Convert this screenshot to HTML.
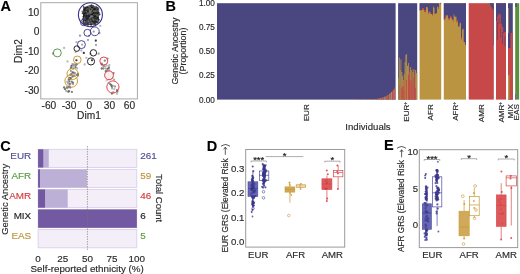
<!DOCTYPE html>
<html><head><meta charset="utf-8"><style>
html,body{margin:0;padding:0;background:#fff;width:520px;height:274px;overflow:hidden}
svg{display:block;filter:blur(0.25px)}
text{font-family:"Liberation Sans",sans-serif}
</style></head><body>
<svg width="520" height="274" viewBox="0 0 520 274">
<rect width="520" height="274" fill="#fff"/>
<text x="0.5" y="11" font-size="14.5" fill="#000" stroke="#000" stroke-width="0.1" text-anchor="start" font-weight="bold" >A</text>
<rect x="40.8" y="2.7" width="96.6" height="96.2" fill="#fff" stroke="#a8a8a8" stroke-width="1"/>
<text x="39.3" y="16.0" font-size="10.2" fill="#2a2a2a" stroke="#2a2a2a" stroke-width="0.15" text-anchor="end" font-weight="normal" >10</text>
<text x="39.3" y="35.4" font-size="10.2" fill="#2a2a2a" stroke="#2a2a2a" stroke-width="0.15" text-anchor="end" font-weight="normal" >0</text>
<text x="39.3" y="54.9" font-size="10.2" fill="#2a2a2a" stroke="#2a2a2a" stroke-width="0.15" text-anchor="end" font-weight="normal" >-10</text>
<text x="39.3" y="74.39999999999999" font-size="10.2" fill="#2a2a2a" stroke="#2a2a2a" stroke-width="0.15" text-anchor="end" font-weight="normal" >-20</text>
<text x="39.3" y="93.8" font-size="10.2" fill="#2a2a2a" stroke="#2a2a2a" stroke-width="0.15" text-anchor="end" font-weight="normal" >-30</text>
<text x="48.9" y="108.6" font-size="10.2" fill="#2a2a2a" stroke="#2a2a2a" stroke-width="0.15" text-anchor="middle" font-weight="normal" >-60</text>
<text x="69.1" y="108.6" font-size="10.2" fill="#2a2a2a" stroke="#2a2a2a" stroke-width="0.15" text-anchor="middle" font-weight="normal" >-30</text>
<text x="89.3" y="108.6" font-size="10.2" fill="#2a2a2a" stroke="#2a2a2a" stroke-width="0.15" text-anchor="middle" font-weight="normal" >0</text>
<text x="109.4" y="108.6" font-size="10.2" fill="#2a2a2a" stroke="#2a2a2a" stroke-width="0.15" text-anchor="middle" font-weight="normal" >30</text>
<text x="129.5" y="108.6" font-size="10.2" fill="#2a2a2a" stroke="#2a2a2a" stroke-width="0.15" text-anchor="middle" font-weight="normal" >60</text>
<text x="89" y="119" font-size="10.2" fill="#2a2a2a" stroke="#2a2a2a" stroke-width="0.15" text-anchor="middle" font-weight="normal" >Dim1</text>
<text x="22.2" y="51" font-size="10.2" fill="#2a2a2a" stroke="#2a2a2a" stroke-width="0.15" text-anchor="middle" font-weight="normal" transform="rotate(-90 22.2 51)" >Dim2</text>
<rect x="83" y="6.5" width="15.8" height="18.5" rx="4" fill="#2e2e2e"/>
<circle cx="88.1" cy="9.3" r="1.0254672365199269" fill="#111" fill-opacity="0.8"/>
<circle cx="96.0" cy="8.2" r="0.9913940029516775" fill="#8a8a8a" fill-opacity="0.8"/>
<circle cx="86.4" cy="8.1" r="0.9090860756853797" fill="#1a1a1a" fill-opacity="0.8"/>
<circle cx="84.4" cy="14.4" r="1.113426062336019" fill="#111" fill-opacity="0.8"/>
<circle cx="98.0" cy="18.2" r="0.9914984522302036" fill="#111" fill-opacity="0.8"/>
<circle cx="92.1" cy="13.8" r="1.1881275527964599" fill="#111" fill-opacity="0.8"/>
<circle cx="91.8" cy="9.0" r="0.9095695217857326" fill="#8a8a8a" fill-opacity="0.8"/>
<circle cx="84.9" cy="12.2" r="1.1080631795600158" fill="#1a1a1a" fill-opacity="0.8"/>
<circle cx="84.6" cy="17.1" r="0.7939355133935717" fill="#111" fill-opacity="0.8"/>
<circle cx="91.7" cy="7.7" r="0.7298005849831163" fill="#1a1a1a" fill-opacity="0.8"/>
<circle cx="90.8" cy="16.3" r="1.0886143874904035" fill="#777" fill-opacity="0.8"/>
<circle cx="92.3" cy="14.9" r="0.8498834984318411" fill="#1a1a1a" fill-opacity="0.8"/>
<circle cx="94.0" cy="11.0" r="0.9872118551293354" fill="#8a8a8a" fill-opacity="0.8"/>
<circle cx="90.8" cy="12.9" r="0.9244170952138966" fill="#8a8a8a" fill-opacity="0.8"/>
<circle cx="98.5" cy="8.7" r="0.9090614108926136" fill="#555" fill-opacity="0.8"/>
<circle cx="85.4" cy="15.5" r="0.7196036285237188" fill="#666" fill-opacity="0.8"/>
<circle cx="84.2" cy="16.8" r="1.0945470857451773" fill="#555" fill-opacity="0.8"/>
<circle cx="88.4" cy="13.0" r="0.9483373976494938" fill="#777" fill-opacity="0.8"/>
<circle cx="84.1" cy="8.2" r="0.8349696385640588" fill="#666" fill-opacity="0.8"/>
<circle cx="93.5" cy="7.6" r="1.050746010652212" fill="#666" fill-opacity="0.8"/>
<circle cx="92.1" cy="19.1" r="0.9228203836254608" fill="#666" fill-opacity="0.8"/>
<circle cx="89.1" cy="18.9" r="0.7112814640277942" fill="#777" fill-opacity="0.8"/>
<circle cx="88.6" cy="17.8" r="0.9468464972784907" fill="#1a1a1a" fill-opacity="0.8"/>
<circle cx="95.1" cy="8.9" r="0.823807416848457" fill="#777" fill-opacity="0.8"/>
<circle cx="97.5" cy="15.7" r="0.7831831412359602" fill="#777" fill-opacity="0.8"/>
<circle cx="91.7" cy="22.8" r="1.1096399189178707" fill="#8a8a8a" fill-opacity="0.8"/>
<circle cx="87.4" cy="14.2" r="0.8793855826658123" fill="#777" fill-opacity="0.8"/>
<circle cx="98.1" cy="9.3" r="0.7881088642451851" fill="#1a1a1a" fill-opacity="0.8"/>
<circle cx="93.4" cy="6.7" r="1.115546780784143" fill="#1a1a1a" fill-opacity="0.8"/>
<circle cx="87.2" cy="6.6" r="0.9094732505626639" fill="#555" fill-opacity="0.8"/>
<circle cx="92.6" cy="12.4" r="0.7627457562479885" fill="#8a8a8a" fill-opacity="0.8"/>
<circle cx="98.0" cy="18.6" r="1.0698923738822075" fill="#777" fill-opacity="0.8"/>
<circle cx="97.2" cy="20.9" r="1.1372565920672382" fill="#8a8a8a" fill-opacity="0.8"/>
<circle cx="89.2" cy="13.9" r="0.751768546855162" fill="#666" fill-opacity="0.8"/>
<circle cx="89.3" cy="10.0" r="1.1923338003783046" fill="#777" fill-opacity="0.8"/>
<circle cx="85.6" cy="12.8" r="0.7262878019451334" fill="#111" fill-opacity="0.8"/>
<circle cx="92.0" cy="16.4" r="1.1744743792847168" fill="#8a8a8a" fill-opacity="0.8"/>
<circle cx="83.4" cy="22.7" r="1.0070344938942393" fill="#1a1a1a" fill-opacity="0.8"/>
<circle cx="93.0" cy="24.2" r="1.0011395944810042" fill="#777" fill-opacity="0.8"/>
<circle cx="84.9" cy="22.2" r="1.1965513608523568" fill="#777" fill-opacity="0.8"/>
<circle cx="90.6" cy="12.3" r="0.7720587451092437" fill="#666" fill-opacity="0.8"/>
<circle cx="88.4" cy="11.4" r="1.1144276890607803" fill="#1a1a1a" fill-opacity="0.8"/>
<circle cx="91.2" cy="10.3" r="1.1760104735503247" fill="#555" fill-opacity="0.8"/>
<circle cx="85.3" cy="16.5" r="0.7135212457110842" fill="#8a8a8a" fill-opacity="0.8"/>
<circle cx="87.7" cy="18.4" r="0.7455052766807257" fill="#555" fill-opacity="0.8"/>
<circle cx="91.2" cy="23.3" r="0.8778480849114727" fill="#1a1a1a" fill-opacity="0.8"/>
<circle cx="91.4" cy="20.9" r="0.8648324975238811" fill="#1a1a1a" fill-opacity="0.8"/>
<circle cx="92.7" cy="21.1" r="1.0791612120443164" fill="#1a1a1a" fill-opacity="0.8"/>
<circle cx="95.7" cy="21.6" r="1.069936510187857" fill="#1a1a1a" fill-opacity="0.8"/>
<circle cx="86.2" cy="15.6" r="1.0655019962377106" fill="#111" fill-opacity="0.8"/>
<circle cx="95.5" cy="15.2" r="0.7968224730064046" fill="#8a8a8a" fill-opacity="0.8"/>
<circle cx="98.1" cy="14.8" r="1.1685106006381212" fill="#555" fill-opacity="0.8"/>
<circle cx="98.1" cy="13.2" r="0.8102311614981187" fill="#1a1a1a" fill-opacity="0.8"/>
<circle cx="90.4" cy="12.7" r="0.9413266510667889" fill="#8a8a8a" fill-opacity="0.8"/>
<circle cx="96.3" cy="15.4" r="1.0264890214205045" fill="#666" fill-opacity="0.8"/>
<circle cx="84.3" cy="18.7" r="1.1548885687758614" fill="#666" fill-opacity="0.8"/>
<circle cx="94.9" cy="15.3" r="0.7892608591687867" fill="#666" fill-opacity="0.8"/>
<circle cx="88.3" cy="21.3" r="1.185828644491079" fill="#777" fill-opacity="0.8"/>
<circle cx="90.3" cy="20.3" r="0.7424596247255753" fill="#1a1a1a" fill-opacity="0.8"/>
<circle cx="85.7" cy="8.9" r="0.7755753501907449" fill="#777" fill-opacity="0.8"/>
<circle cx="95.7" cy="9.2" r="1.1132552392626935" fill="#777" fill-opacity="0.8"/>
<circle cx="93.4" cy="13.0" r="0.9743300219933895" fill="#1a1a1a" fill-opacity="0.8"/>
<circle cx="83.3" cy="21.3" r="1.0631850281718174" fill="#111" fill-opacity="0.8"/>
<circle cx="91.3" cy="23.8" r="0.9169047183787428" fill="#1a1a1a" fill-opacity="0.8"/>
<circle cx="96.1" cy="10.4" r="0.8259174056827269" fill="#555" fill-opacity="0.8"/>
<circle cx="90.9" cy="20.6" r="0.8629946539527356" fill="#8a8a8a" fill-opacity="0.8"/>
<circle cx="89.6" cy="8.9" r="1.1550085281577782" fill="#555" fill-opacity="0.8"/>
<circle cx="97.2" cy="18.8" r="1.1075235162090389" fill="#8a8a8a" fill-opacity="0.8"/>
<circle cx="89.6" cy="23.5" r="0.9508244705601157" fill="#8a8a8a" fill-opacity="0.8"/>
<circle cx="85.4" cy="15.9" r="1.1364027993385677" fill="#1a1a1a" fill-opacity="0.8"/>
<circle cx="92.6" cy="20.9" r="0.7749012424511712" fill="#1a1a1a" fill-opacity="0.8"/>
<circle cx="90.5" cy="19.9" r="0.9782378124511066" fill="#555" fill-opacity="0.8"/>
<circle cx="93.8" cy="16.3" r="0.9412435069094317" fill="#111" fill-opacity="0.8"/>
<circle cx="97.0" cy="7.6" r="0.7956530655805657" fill="#111" fill-opacity="0.8"/>
<circle cx="95.2" cy="15.9" r="0.9808646933282381" fill="#111" fill-opacity="0.8"/>
<circle cx="90.0" cy="17.8" r="0.9527765654256108" fill="#8a8a8a" fill-opacity="0.8"/>
<circle cx="86.2" cy="11.6" r="0.9540780772763693" fill="#777" fill-opacity="0.8"/>
<circle cx="91.0" cy="11.1" r="0.9616048264374415" fill="#555" fill-opacity="0.8"/>
<circle cx="97.6" cy="23.0" r="0.8012942636013023" fill="#777" fill-opacity="0.8"/>
<circle cx="85.2" cy="8.8" r="0.9210590441375217" fill="#111" fill-opacity="0.8"/>
<circle cx="93.6" cy="14.4" r="0.806344899793983" fill="#555" fill-opacity="0.8"/>
<circle cx="95.4" cy="23.1" r="0.777223311884346" fill="#666" fill-opacity="0.8"/>
<circle cx="93.2" cy="13.3" r="0.8265539187298447" fill="#1a1a1a" fill-opacity="0.8"/>
<circle cx="98.3" cy="10.6" r="1.1762520644594932" fill="#777" fill-opacity="0.8"/>
<circle cx="97.0" cy="9.5" r="1.0339164846854085" fill="#1a1a1a" fill-opacity="0.8"/>
<circle cx="85.6" cy="14.5" r="0.9578025289021794" fill="#555" fill-opacity="0.8"/>
<circle cx="89.7" cy="13.1" r="0.7460970130642907" fill="#555" fill-opacity="0.8"/>
<circle cx="83.3" cy="16.7" r="0.920229050901351" fill="#111" fill-opacity="0.8"/>
<circle cx="89.1" cy="16.1" r="0.8477270555207963" fill="#111" fill-opacity="0.8"/>
<circle cx="84.8" cy="23.5" r="0.8142769268590806" fill="#111" fill-opacity="0.8"/>
<circle cx="84.3" cy="11.5" r="1.1529493442885481" fill="#1a1a1a" fill-opacity="0.8"/>
<circle cx="87.3" cy="8.9" r="0.9111270906388305" fill="#666" fill-opacity="0.8"/>
<circle cx="95.9" cy="11.3" r="0.774683973702039" fill="#8a8a8a" fill-opacity="0.8"/>
<circle cx="92.0" cy="19.5" r="0.7447311039234038" fill="#111" fill-opacity="0.8"/>
<circle cx="95.6" cy="9.9" r="1.1476426060215164" fill="#555" fill-opacity="0.8"/>
<circle cx="97.8" cy="18.2" r="1.1008142957856948" fill="#111" fill-opacity="0.8"/>
<circle cx="92.6" cy="10.6" r="0.8322254980458876" fill="#111" fill-opacity="0.8"/>
<circle cx="90.2" cy="12.8" r="0.9765320592290174" fill="#555" fill-opacity="0.8"/>
<circle cx="92.8" cy="7.3" r="1.05476835905923" fill="#111" fill-opacity="0.8"/>
<circle cx="98.3" cy="11.3" r="0.7905729837781497" fill="#555" fill-opacity="0.8"/>
<circle cx="92.9" cy="16.3" r="0.8029357734693617" fill="#777" fill-opacity="0.8"/>
<circle cx="90.9" cy="9.8" r="0.8735005110639293" fill="#111" fill-opacity="0.8"/>
<circle cx="98.7" cy="7.2" r="0.7092169483493282" fill="#8a8a8a" fill-opacity="0.8"/>
<circle cx="91.7" cy="10.0" r="0.9373803192588668" fill="#777" fill-opacity="0.8"/>
<circle cx="84.7" cy="21.7" r="0.916088792892208" fill="#777" fill-opacity="0.8"/>
<circle cx="91.6" cy="22.9" r="1.1851561989884298" fill="#555" fill-opacity="0.8"/>
<circle cx="93.9" cy="24.7" r="0.8713523127087373" fill="#666" fill-opacity="0.8"/>
<circle cx="94.5" cy="9.1" r="1.1947190334929234" fill="#111" fill-opacity="0.8"/>
<circle cx="96.2" cy="6.8" r="1.012724157202576" fill="#555" fill-opacity="0.8"/>
<circle cx="89.8" cy="7.5" r="1.0326138401078766" fill="#777" fill-opacity="0.8"/>
<circle cx="96.8" cy="18.9" r="0.8409666411533148" fill="#1a1a1a" fill-opacity="0.8"/>
<circle cx="93.9" cy="7.3" r="0.7926760142949705" fill="#555" fill-opacity="0.8"/>
<circle cx="90.0" cy="11.4" r="1.1808932666813066" fill="#8a8a8a" fill-opacity="0.8"/>
<circle cx="88.1" cy="7.1" r="1.1411942858604636" fill="#1a1a1a" fill-opacity="0.8"/>
<circle cx="88.6" cy="6.5" r="0.890813303306291" fill="#777" fill-opacity="0.8"/>
<circle cx="87.4" cy="18.6" r="0.8240896973935352" fill="#111" fill-opacity="0.8"/>
<circle cx="84.4" cy="21.6" r="0.7719325706344513" fill="#8a8a8a" fill-opacity="0.8"/>
<circle cx="83.7" cy="6.9" r="0.8521222801121692" fill="#1a1a1a" fill-opacity="0.8"/>
<circle cx="84.3" cy="24.2" r="1.1266237495487206" fill="#1a1a1a" fill-opacity="0.8"/>
<circle cx="93.4" cy="19.7" r="1.139545346783695" fill="#777" fill-opacity="0.8"/>
<circle cx="91.5" cy="5.2" r="1.0" fill="#444" fill-opacity="0.85"/>
<circle cx="89.4" cy="6.0" r="1.0" fill="#666" fill-opacity="0.85"/>
<circle cx="96.5" cy="8.7" r="1.0" fill="#666" fill-opacity="0.85"/>
<circle cx="95.3" cy="22.9" r="1.0" fill="#222" fill-opacity="0.85"/>
<circle cx="93.3" cy="6.3" r="1.0" fill="#666" fill-opacity="0.85"/>
<circle cx="98.7" cy="12.8" r="1.0" fill="#222" fill-opacity="0.85"/>
<circle cx="96.2" cy="23.1" r="1.0" fill="#444" fill-opacity="0.85"/>
<circle cx="82.4" cy="11.4" r="1.0" fill="#666" fill-opacity="0.85"/>
<circle cx="91.1" cy="26.2" r="1.0" fill="#222" fill-opacity="0.85"/>
<circle cx="89.8" cy="6.1" r="1.0" fill="#666" fill-opacity="0.85"/>
<circle cx="82.7" cy="13.2" r="1.0" fill="#222" fill-opacity="0.85"/>
<circle cx="95.7" cy="9.1" r="1.0" fill="#222" fill-opacity="0.85"/>
<circle cx="91.3" cy="6.0" r="1.0" fill="#444" fill-opacity="0.85"/>
<circle cx="98.8" cy="19.8" r="1.0" fill="#222" fill-opacity="0.85"/>
<circle cx="84.5" cy="9.0" r="1.0" fill="#222" fill-opacity="0.85"/>
<circle cx="86.1" cy="23.1" r="1.0" fill="#666" fill-opacity="0.85"/>
<circle cx="83.6" cy="11.8" r="1.0" fill="#444" fill-opacity="0.85"/>
<circle cx="99.5" cy="14.4" r="1.0" fill="#444" fill-opacity="0.85"/>
<circle cx="87.9" cy="24.9" r="1.0" fill="#444" fill-opacity="0.85"/>
<circle cx="92.8" cy="6.1" r="1.0" fill="#444" fill-opacity="0.85"/>
<circle cx="99.3" cy="14.3" r="1.0" fill="#444" fill-opacity="0.85"/>
<circle cx="95.7" cy="20.0" r="1.0" fill="#444" fill-opacity="0.85"/>
<circle cx="86.2" cy="21.0" r="1.0" fill="#222" fill-opacity="0.85"/>
<circle cx="84.3" cy="11.8" r="1.0" fill="#444" fill-opacity="0.85"/>
<circle cx="96.9" cy="21.9" r="1.0" fill="#222" fill-opacity="0.85"/>
<circle cx="88.7" cy="8.2" r="1.0" fill="#444" fill-opacity="0.85"/>
<circle cx="85.4" cy="23.3" r="1.0" fill="#666" fill-opacity="0.85"/>
<circle cx="82.9" cy="19.0" r="1.0" fill="#444" fill-opacity="0.85"/>
<circle cx="85.5" cy="22.9" r="1.0" fill="#444" fill-opacity="0.85"/>
<circle cx="91.2" cy="5.8" r="1.0" fill="#222" fill-opacity="0.85"/>
<circle cx="80.0" cy="35.7" r="1.15" fill="#8a8a8a" fill-opacity="0.85"/>
<circle cx="95.8" cy="40.6" r="1.15" fill="#999" fill-opacity="0.85"/>
<circle cx="99.4" cy="33.2" r="1.15" fill="#8a8a8a" fill-opacity="0.85"/>
<circle cx="100.2" cy="25.8" r="1.15" fill="#aaa" fill-opacity="0.85"/>
<circle cx="64.1" cy="48.0" r="1.15" fill="#aaa" fill-opacity="0.85"/>
<circle cx="76.4" cy="42.2" r="1.15" fill="#aaa" fill-opacity="0.85"/>
<circle cx="83.8" cy="52.9" r="1.15" fill="#999" fill-opacity="0.85"/>
<circle cx="86.3" cy="57.8" r="1.15" fill="#aaa" fill-opacity="0.85"/>
<circle cx="84.6" cy="64.4" r="1.15" fill="#aaa" fill-opacity="0.85"/>
<circle cx="98.6" cy="53.7" r="1.15" fill="#8a8a8a" fill-opacity="0.85"/>
<circle cx="107.6" cy="58.7" r="1.15" fill="#999" fill-opacity="0.85"/>
<circle cx="109.3" cy="65.2" r="1.15" fill="#aaa" fill-opacity="0.85"/>
<circle cx="75.6" cy="52.1" r="1.15" fill="#aaa" fill-opacity="0.85"/>
<circle cx="81.3" cy="50.5" r="1.15" fill="#aaa" fill-opacity="0.85"/>
<circle cx="76.4" cy="60.3" r="1.15" fill="#999" fill-opacity="0.85"/>
<circle cx="92.0" cy="60.3" r="1.15" fill="#aaa" fill-opacity="0.85"/>
<circle cx="90.4" cy="53.7" r="1.15" fill="#999" fill-opacity="0.85"/>
<circle cx="82.2" cy="44.7" r="1.15" fill="#999" fill-opacity="0.85"/>
<circle cx="93.7" cy="31.6" r="1.15" fill="#8a8a8a" fill-opacity="0.85"/>
<circle cx="97.0" cy="24.0" r="1.15" fill="#aaa" fill-opacity="0.85"/>
<circle cx="53.0" cy="53.5" r="1.15" fill="#8a8a8a" fill-opacity="0.85"/>
<circle cx="88.0" cy="40.0" r="1.15" fill="#999" fill-opacity="0.85"/>
<circle cx="96.0" cy="45.0" r="1.15" fill="#999" fill-opacity="0.85"/>
<circle cx="89.0" cy="36.0" r="1.15" fill="#aaa" fill-opacity="0.85"/>
<circle cx="95.8" cy="40.6" r="1.05" fill="#333" fill-opacity="0.9"/>
<circle cx="83.8" cy="52.9" r="1.05" fill="#333" fill-opacity="0.9"/>
<circle cx="76.4" cy="60.3" r="1.05" fill="#333" fill-opacity="0.9"/>
<circle cx="92.0" cy="60.3" r="1.05" fill="#333" fill-opacity="0.9"/>
<circle cx="70.3" cy="78.8" r="1.15" fill="#555" fill-opacity="0.8"/>
<circle cx="69.4" cy="86.0" r="1.15" fill="#999" fill-opacity="0.8"/>
<circle cx="70.9" cy="78.3" r="1.15" fill="#bbb" fill-opacity="0.8"/>
<circle cx="71.2" cy="74.2" r="1.15" fill="#aaa" fill-opacity="0.8"/>
<circle cx="74.4" cy="75.8" r="1.15" fill="#888" fill-opacity="0.8"/>
<circle cx="70.5" cy="78.1" r="1.15" fill="#bbb" fill-opacity="0.8"/>
<circle cx="67.8" cy="82.8" r="1.15" fill="#888" fill-opacity="0.8"/>
<circle cx="70.9" cy="71.0" r="1.15" fill="#888" fill-opacity="0.8"/>
<circle cx="72.9" cy="82.7" r="1.15" fill="#555" fill-opacity="0.8"/>
<circle cx="68.8" cy="79.5" r="1.15" fill="#555" fill-opacity="0.8"/>
<circle cx="70.3" cy="75.0" r="1.15" fill="#888" fill-opacity="0.8"/>
<circle cx="74.5" cy="73.7" r="1.15" fill="#aaa" fill-opacity="0.8"/>
<circle cx="68.9" cy="86.9" r="1.15" fill="#555" fill-opacity="0.8"/>
<circle cx="72.5" cy="72.7" r="1.15" fill="#aaa" fill-opacity="0.8"/>
<circle cx="74.9" cy="73.4" r="1.15" fill="#aaa" fill-opacity="0.8"/>
<circle cx="71.2" cy="66.6" r="1.15" fill="#888" fill-opacity="0.8"/>
<circle cx="77.2" cy="64.5" r="1.15" fill="#bbb" fill-opacity="0.8"/>
<circle cx="76.8" cy="74.8" r="1.15" fill="#666" fill-opacity="0.8"/>
<circle cx="70.9" cy="68.2" r="1.15" fill="#555" fill-opacity="0.8"/>
<circle cx="66.3" cy="91.1" r="1.15" fill="#999" fill-opacity="0.8"/>
<circle cx="70.2" cy="87.5" r="1.15" fill="#666" fill-opacity="0.8"/>
<circle cx="78.0" cy="73.9" r="1.15" fill="#666" fill-opacity="0.8"/>
<circle cx="66.9" cy="87.5" r="1.15" fill="#555" fill-opacity="0.8"/>
<circle cx="75.3" cy="65.4" r="1.15" fill="#888" fill-opacity="0.8"/>
<circle cx="77.2" cy="68.4" r="1.15" fill="#aaa" fill-opacity="0.8"/>
<circle cx="65.1" cy="89.2" r="1.15" fill="#555" fill-opacity="0.8"/>
<circle cx="70.5" cy="83.8" r="1.15" fill="#999" fill-opacity="0.8"/>
<circle cx="68.2" cy="91.8" r="1.15" fill="#999" fill-opacity="0.8"/>
<circle cx="67.5" cy="61.5" r="1.15" fill="#aaa" fill-opacity="0.8"/>
<circle cx="64.1" cy="87.5" r="1.15" fill="#555" fill-opacity="0.8"/>
<circle cx="70.7" cy="78.1" r="1.15" fill="#555" fill-opacity="0.8"/>
<circle cx="69.5" cy="83.8" r="1.15" fill="#555" fill-opacity="0.8"/>
<circle cx="67.4" cy="88.0" r="1.15" fill="#888" fill-opacity="0.8"/>
<circle cx="71.7" cy="81.7" r="1.15" fill="#666" fill-opacity="0.8"/>
<circle cx="69.3" cy="81.3" r="1.15" fill="#555" fill-opacity="0.8"/>
<circle cx="75.5" cy="65.6" r="1.15" fill="#999" fill-opacity="0.8"/>
<circle cx="73.7" cy="65.0" r="1.15" fill="#888" fill-opacity="0.8"/>
<circle cx="74.7" cy="73.0" r="1.15" fill="#aaa" fill-opacity="0.8"/>
<circle cx="72.5" cy="64.2" r="1.15" fill="#888" fill-opacity="0.8"/>
<circle cx="72.4" cy="76.7" r="1.15" fill="#999" fill-opacity="0.8"/>
<circle cx="73.3" cy="68.1" r="1.15" fill="#999" fill-opacity="0.8"/>
<circle cx="75.6" cy="67.3" r="1.15" fill="#555" fill-opacity="0.8"/>
<circle cx="71.4" cy="74.4" r="1.15" fill="#666" fill-opacity="0.8"/>
<circle cx="69.1" cy="91.2" r="1.15" fill="#888" fill-opacity="0.8"/>
<circle cx="67.2" cy="81.6" r="1.15" fill="#aaa" fill-opacity="0.8"/>
<circle cx="68.2" cy="83.6" r="1.15" fill="#aaa" fill-opacity="0.8"/>
<circle cx="72.8" cy="76.3" r="1.15" fill="#666" fill-opacity="0.8"/>
<circle cx="74.1" cy="72.9" r="1.15" fill="#888" fill-opacity="0.8"/>
<circle cx="72.8" cy="72.3" r="1.15" fill="#555" fill-opacity="0.8"/>
<circle cx="74.7" cy="64.3" r="1.15" fill="#999" fill-opacity="0.8"/>
<circle cx="68.6" cy="91.4" r="1.15" fill="#555" fill-opacity="0.8"/>
<circle cx="71.7" cy="65.8" r="1.15" fill="#555" fill-opacity="0.8"/>
<circle cx="76.5" cy="64.3" r="1.15" fill="#666" fill-opacity="0.8"/>
<circle cx="73.6" cy="66.2" r="1.15" fill="#aaa" fill-opacity="0.8"/>
<circle cx="69.5" cy="77.8" r="1.15" fill="#666" fill-opacity="0.8"/>
<circle cx="73.2" cy="68.9" r="1.15" fill="#aaa" fill-opacity="0.8"/>
<circle cx="72.7" cy="69.0" r="1.15" fill="#bbb" fill-opacity="0.8"/>
<circle cx="71.9" cy="91.9" r="1.15" fill="#666" fill-opacity="0.8"/>
<circle cx="77.9" cy="75.4" r="1.15" fill="#555" fill-opacity="0.8"/>
<circle cx="73.0" cy="84.0" r="1.15" fill="#888" fill-opacity="0.8"/>
<circle cx="117.0" cy="94.0" r="1.15" fill="#bbb" fill-opacity="0.8"/>
<circle cx="107.8" cy="71.9" r="1.15" fill="#888" fill-opacity="0.8"/>
<circle cx="107.6" cy="75.9" r="1.15" fill="#999" fill-opacity="0.8"/>
<circle cx="107.2" cy="70.9" r="1.15" fill="#888" fill-opacity="0.8"/>
<circle cx="107.9" cy="73.8" r="1.15" fill="#999" fill-opacity="0.8"/>
<circle cx="113.5" cy="73.2" r="1.15" fill="#666" fill-opacity="0.8"/>
<circle cx="108.8" cy="72.7" r="1.15" fill="#555" fill-opacity="0.8"/>
<circle cx="117.3" cy="91.4" r="1.15" fill="#888" fill-opacity="0.8"/>
<circle cx="107.0" cy="73.8" r="1.15" fill="#bbb" fill-opacity="0.8"/>
<circle cx="111.5" cy="75.5" r="1.15" fill="#aaa" fill-opacity="0.8"/>
<circle cx="106.1" cy="72.0" r="1.15" fill="#bbb" fill-opacity="0.8"/>
<circle cx="106.4" cy="72.6" r="1.15" fill="#888" fill-opacity="0.8"/>
<circle cx="109.0" cy="67.0" r="1.15" fill="#aaa" fill-opacity="0.8"/>
<circle cx="105.7" cy="68.6" r="1.15" fill="#999" fill-opacity="0.8"/>
<circle cx="108.8" cy="68.0" r="1.15" fill="#666" fill-opacity="0.8"/>
<circle cx="101.7" cy="68.5" r="1.15" fill="#555" fill-opacity="0.8"/>
<circle cx="117.0" cy="90.2" r="1.15" fill="#666" fill-opacity="0.8"/>
<circle cx="101.9" cy="63.7" r="1.15" fill="#888" fill-opacity="0.8"/>
<circle cx="111.9" cy="93.6" r="1.15" fill="#555" fill-opacity="0.8"/>
<circle cx="112.2" cy="77.8" r="1.15" fill="#666" fill-opacity="0.8"/>
<circle cx="103.4" cy="66.0" r="1.15" fill="#888" fill-opacity="0.8"/>
<circle cx="105.0" cy="66.6" r="1.15" fill="#aaa" fill-opacity="0.8"/>
<circle cx="104.8" cy="60.7" r="1.15" fill="#666" fill-opacity="0.8"/>
<circle cx="112.1" cy="88.4" r="1.15" fill="#999" fill-opacity="0.8"/>
<circle cx="109.7" cy="77.5" r="1.15" fill="#999" fill-opacity="0.8"/>
<circle cx="106.7" cy="80.4" r="1.15" fill="#bbb" fill-opacity="0.8"/>
<circle cx="110.4" cy="79.0" r="1.15" fill="#888" fill-opacity="0.8"/>
<circle cx="108.4" cy="82.8" r="1.15" fill="#bbb" fill-opacity="0.8"/>
<circle cx="110.4" cy="72.7" r="1.15" fill="#999" fill-opacity="0.8"/>
<circle cx="114.3" cy="89.1" r="1.15" fill="#aaa" fill-opacity="0.8"/>
<circle cx="110.2" cy="84.0" r="1.15" fill="#666" fill-opacity="0.8"/>
<circle cx="110.4" cy="77.7" r="1.15" fill="#666" fill-opacity="0.8"/>
<circle cx="111.4" cy="74.2" r="1.15" fill="#888" fill-opacity="0.8"/>
<circle cx="107.7" cy="68.9" r="1.15" fill="#555" fill-opacity="0.8"/>
<circle cx="104.3" cy="65.8" r="1.15" fill="#999" fill-opacity="0.8"/>
<circle cx="106.1" cy="70.8" r="1.15" fill="#888" fill-opacity="0.8"/>
<circle cx="117.3" cy="91.7" r="1.15" fill="#888" fill-opacity="0.8"/>
<circle cx="108.7" cy="72.5" r="1.15" fill="#555" fill-opacity="0.8"/>
<circle cx="105.8" cy="71.4" r="1.15" fill="#666" fill-opacity="0.8"/>
<circle cx="111.7" cy="86.3" r="1.15" fill="#888" fill-opacity="0.8"/>
<circle cx="114.1" cy="79.7" r="1.15" fill="#999" fill-opacity="0.8"/>
<circle cx="115.0" cy="86.5" r="1.15" fill="#888" fill-opacity="0.8"/>
<circle cx="106.8" cy="65.6" r="1.15" fill="#aaa" fill-opacity="0.8"/>
<circle cx="106.4" cy="72.2" r="1.15" fill="#888" fill-opacity="0.8"/>
<circle cx="101.7" cy="64.6" r="1.15" fill="#666" fill-opacity="0.8"/>
<circle cx="111.3" cy="85.2" r="1.15" fill="#555" fill-opacity="0.8"/>
<circle cx="109.6" cy="78.4" r="1.15" fill="#555" fill-opacity="0.8"/>
<circle cx="108.4" cy="75.7" r="1.15" fill="#aaa" fill-opacity="0.8"/>
<circle cx="109.4" cy="77.3" r="1.15" fill="#999" fill-opacity="0.8"/>
<circle cx="113.3" cy="92.2" r="1.15" fill="#999" fill-opacity="0.8"/>
<circle cx="112.1" cy="86.5" r="1.15" fill="#555" fill-opacity="0.8"/>
<circle cx="111.5" cy="76.7" r="1.15" fill="#aaa" fill-opacity="0.8"/>
<circle cx="103.3" cy="68.5" r="1.15" fill="#666" fill-opacity="0.8"/>
<circle cx="109.2" cy="70.1" r="1.15" fill="#aaa" fill-opacity="0.8"/>
<circle cx="112.8" cy="85.9" r="1.15" fill="#999" fill-opacity="0.8"/>
<circle cx="90.4" cy="14.7" r="12.0" fill="none" stroke="#35338a" stroke-width="1.1"/>
<circle cx="83.8" cy="22.5" r="3.3" fill="none" stroke="#35338a" stroke-width="0.9"/>
<circle cx="87.4" cy="32.8" r="3.5" fill="none" stroke="#35338a" stroke-width="0.9"/>
<circle cx="94.8" cy="31.3" r="4.4" fill="none" stroke="#35338a" stroke-width="0.9"/>
<circle cx="81.4" cy="44.6" r="4.0" fill="none" stroke="#35338a" stroke-width="0.9"/>
<circle cx="76.8" cy="48.6" r="2.8" fill="none" stroke="#111" stroke-width="0.9"/>
<circle cx="57.3" cy="52.9" r="4.0" fill="none" stroke="#4c8f35" stroke-width="0.9"/>
<circle cx="93.4" cy="52.8" r="3.2" fill="none" stroke="#111" stroke-width="0.9"/>
<circle cx="91.0" cy="61.4" r="3.6" fill="none" stroke="#111" stroke-width="0.9"/>
<circle cx="77.3" cy="59.8" r="3.8" fill="none" stroke="#c48f20" stroke-width="0.9"/>
<circle cx="72.6" cy="73.9" r="5.6" fill="none" stroke="#c48f20" stroke-width="0.9"/>
<circle cx="71.2" cy="81.0" r="6.3" fill="none" stroke="#c48f20" stroke-width="0.9"/>
<circle cx="103.8" cy="61.0" r="4.0" fill="none" stroke="#d33" stroke-width="0.9"/>
<circle cx="109.0" cy="75.3" r="4.4" fill="#fbeeee" stroke="#d33" stroke-width="0.9"/>
<circle cx="112.9" cy="87.0" r="6.1" fill="none" stroke="#d33" stroke-width="0.9"/>
<text x="165.5" y="11" font-size="14.5" fill="#000" stroke="#000" stroke-width="0.1" text-anchor="start" font-weight="bold" >B</text>
<text x="214.9" y="5.85" font-size="8.2" fill="#2a2a2a" stroke="#2a2a2a" stroke-width="0.15" text-anchor="end" font-weight="normal" >1.00</text>
<text x="214.9" y="30.05" font-size="8.2" fill="#2a2a2a" stroke="#2a2a2a" stroke-width="0.15" text-anchor="end" font-weight="normal" >0.75</text>
<text x="214.9" y="54.25" font-size="8.2" fill="#2a2a2a" stroke="#2a2a2a" stroke-width="0.15" text-anchor="end" font-weight="normal" >0.50</text>
<text x="214.9" y="78.35000000000001" font-size="8.2" fill="#2a2a2a" stroke="#2a2a2a" stroke-width="0.15" text-anchor="end" font-weight="normal" >0.25</text>
<text x="214.9" y="102.55" font-size="8.2" fill="#2a2a2a" stroke="#2a2a2a" stroke-width="0.15" text-anchor="end" font-weight="normal" >0.00</text>
<text x="177.6" y="51" font-size="8.9" fill="#2a2a2a" stroke="#2a2a2a" stroke-width="0.15" text-anchor="middle" font-weight="normal" transform="rotate(-90 177.6 51)" >Genetic Ancestry</text>
<text x="185.8" y="51" font-size="8.9" fill="#2a2a2a" stroke="#2a2a2a" stroke-width="0.15" text-anchor="middle" font-weight="normal" transform="rotate(-90 185.8 51)" >(Proportion)</text>
<rect x="217" y="3.2" width="178.6" height="96.4" fill="#4a467f"/>
<rect x="398.1" y="3.2" width="19.1" height="96.4" fill="#4a467f"/>
<rect x="419.6" y="3.2" width="21.6" height="96.4" fill="#bb9441"/>
<rect x="443.8" y="3.2" width="22.2" height="96.4" fill="#bb9441"/>
<rect x="468.7" y="3.2" width="25.1" height="96.4" fill="#c64848"/>
<rect x="496" y="3.2" width="10.0" height="96.4" fill="#c64848"/>
<rect x="508" y="3.2" width="4.8" height="96.4" fill="#4a467f"/>
<rect x="515.2" y="3.2" width="4.0" height="96.4" fill="#5a8f3e"/>
<rect x="356.00" y="99.30" width="0.95" height="0.30" fill="#c64848"/>
<rect x="356.90" y="99.30" width="0.95" height="0.30" fill="#bb9441"/>
<rect x="357.80" y="99.30" width="0.95" height="0.30" fill="#b0609a"/>
<rect x="358.70" y="99.30" width="0.95" height="0.30" fill="#bb9441"/>
<rect x="359.60" y="99.30" width="0.95" height="0.30" fill="#c64848"/>
<rect x="360.50" y="99.30" width="0.95" height="0.30" fill="#d8703a"/>
<rect x="361.40" y="99.30" width="0.95" height="0.30" fill="#c64848"/>
<rect x="362.30" y="99.30" width="0.95" height="0.30" fill="#bb9441"/>
<rect x="363.20" y="99.30" width="0.95" height="0.30" fill="#b0609a"/>
<rect x="364.10" y="99.29" width="0.95" height="0.31" fill="#bb9441"/>
<rect x="365.00" y="99.29" width="0.95" height="0.31" fill="#c64848"/>
<rect x="365.90" y="99.28" width="0.95" height="0.32" fill="#d8703a"/>
<rect x="366.80" y="99.27" width="0.95" height="0.33" fill="#c64848"/>
<rect x="367.70" y="99.26" width="0.95" height="0.34" fill="#bb9441"/>
<rect x="368.60" y="99.25" width="0.95" height="0.35" fill="#b0609a"/>
<rect x="369.50" y="99.22" width="0.95" height="0.38" fill="#bb9441"/>
<rect x="370.40" y="99.20" width="0.95" height="0.40" fill="#c64848"/>
<rect x="371.30" y="99.16" width="0.95" height="0.44" fill="#d8703a"/>
<rect x="372.20" y="99.12" width="0.95" height="0.48" fill="#c64848"/>
<rect x="373.10" y="99.07" width="0.95" height="0.53" fill="#bb9441"/>
<rect x="374.00" y="99.01" width="0.95" height="0.59" fill="#b0609a"/>
<rect x="374.90" y="98.93" width="0.95" height="0.67" fill="#bb9441"/>
<rect x="375.80" y="98.84" width="0.95" height="0.76" fill="#c64848"/>
<rect x="376.70" y="98.73" width="0.95" height="0.87" fill="#d8703a"/>
<rect x="377.60" y="98.60" width="0.95" height="1.00" fill="#c64848"/>
<rect x="378.50" y="98.45" width="0.95" height="1.15" fill="#bb9441"/>
<rect x="379.40" y="98.27" width="0.95" height="1.33" fill="#b0609a"/>
<rect x="380.30" y="98.07" width="0.95" height="1.53" fill="#bb9441"/>
<rect x="381.20" y="97.83" width="0.95" height="1.77" fill="#c64848"/>
<rect x="382.10" y="97.56" width="0.95" height="2.04" fill="#d8703a"/>
<rect x="383.00" y="97.25" width="0.95" height="2.35" fill="#c64848"/>
<rect x="383.90" y="96.90" width="0.95" height="2.70" fill="#bb9441"/>
<rect x="384.80" y="96.50" width="0.95" height="3.10" fill="#b0609a"/>
<rect x="385.70" y="96.05" width="0.95" height="3.55" fill="#bb9441"/>
<rect x="386.60" y="95.54" width="0.95" height="4.06" fill="#c64848"/>
<rect x="387.50" y="94.97" width="0.95" height="4.63" fill="#d8703a"/>
<rect x="388.40" y="94.34" width="0.95" height="5.26" fill="#c64848"/>
<rect x="389.30" y="93.63" width="0.95" height="5.97" fill="#bb9441"/>
<rect x="390.20" y="92.84" width="0.95" height="6.76" fill="#b0609a"/>
<rect x="391.10" y="91.97" width="0.95" height="7.63" fill="#bb9441"/>
<rect x="392.00" y="91.01" width="0.95" height="8.59" fill="#c64848"/>
<rect x="392.90" y="89.95" width="0.95" height="9.65" fill="#d8703a"/>
<rect x="393.80" y="88.78" width="0.95" height="10.82" fill="#c64848"/>
<rect x="394.70" y="87.50" width="0.95" height="12.10" fill="#bb9441"/>
<rect x="394.60" y="89.60" width="1.00" height="10.00" fill="#b070b0"/>
<rect x="398.10" y="78.00" width="0.84" height="21.60" fill="#8f9444"/>
<rect x="398.90" y="57.50" width="0.84" height="42.10" fill="#bb9441"/>
<rect x="399.70" y="70.00" width="0.84" height="29.60" fill="#bb9441"/>
<rect x="399.70" y="85.00" width="0.84" height="14.60" fill="#c64848"/>
<rect x="400.50" y="59.50" width="0.84" height="40.10" fill="#bb9441"/>
<rect x="401.30" y="72.00" width="0.94" height="27.60" fill="#bb9441"/>
<rect x="401.30" y="88.00" width="0.94" height="11.60" fill="#c64848"/>
<rect x="402.20" y="76.00" width="0.84" height="23.60" fill="#bb9441"/>
<rect x="402.20" y="86.00" width="0.84" height="13.60" fill="#c64848"/>
<rect x="403.00" y="80.00" width="0.84" height="19.60" fill="#bb9441"/>
<rect x="403.00" y="86.00" width="0.84" height="13.60" fill="#c64848"/>
<rect x="403.80" y="74.00" width="0.84" height="25.60" fill="#bb9441"/>
<rect x="403.80" y="79.00" width="0.84" height="20.60" fill="#c64848"/>
<rect x="404.60" y="62.00" width="0.84" height="37.60" fill="#bb9441"/>
<rect x="404.60" y="90.00" width="0.84" height="9.60" fill="#c64848"/>
<rect x="405.40" y="55.00" width="0.84" height="44.60" fill="#bb9441"/>
<rect x="406.20" y="54.00" width="0.84" height="45.60" fill="#bb9441"/>
<rect x="406.20" y="80.00" width="0.84" height="19.60" fill="#c64848"/>
<rect x="407.00" y="66.00" width="0.94" height="33.60" fill="#bb9441"/>
<rect x="407.90" y="63.00" width="0.94" height="36.60" fill="#bb9441"/>
<rect x="407.90" y="75.00" width="0.94" height="24.60" fill="#c64848"/>
<rect x="408.80" y="72.00" width="1.04" height="27.60" fill="#c64848"/>
<rect x="409.80" y="67.00" width="0.94" height="32.60" fill="#bb9441"/>
<rect x="409.80" y="82.00" width="0.94" height="17.60" fill="#c64848"/>
<rect x="410.70" y="70.00" width="1.04" height="29.60" fill="#bb9441"/>
<rect x="410.70" y="80.00" width="1.04" height="19.60" fill="#c64848"/>
<rect x="411.70" y="68.50" width="0.84" height="31.10" fill="#c64848"/>
<rect x="412.50" y="72.00" width="0.94" height="27.60" fill="#bb9441"/>
<rect x="412.50" y="85.00" width="0.94" height="14.60" fill="#c64848"/>
<rect x="413.40" y="69.50" width="0.94" height="30.10" fill="#bb9441"/>
<rect x="413.40" y="78.00" width="0.94" height="21.60" fill="#c64848"/>
<rect x="414.30" y="74.00" width="0.94" height="25.60" fill="#c64848"/>
<rect x="415.20" y="70.00" width="0.94" height="29.60" fill="#bb9441"/>
<rect x="415.20" y="88.00" width="0.94" height="11.60" fill="#c64848"/>
<rect x="416.10" y="73.00" width="1.14" height="26.60" fill="#bb9441"/>
<path d="M419.60 3.2 L419.60 10.59 L420.40 10.59 L420.40 10.11 L421.20 10.11 L421.20 10.37 L422.00 10.37 L422.00 8.35 L423.00 8.35 L423.00 8.43 L424.00 8.43 L424.00 10.63 L425.00 10.63 L425.00 10.79 L426.00 10.79 L426.00 6.92 L427.00 6.92 L427.00 6.96 L428.00 6.96 L428.00 12.77 L428.75 12.77 L428.75 11.58 L429.50 11.58 L429.50 12.62 L430.25 12.62 L430.25 12.59 L431.00 12.59 L431.00 14.07 L432.00 14.07 L432.00 14.14 L433.00 14.14 L433.00 6.54 L433.75 6.54 L433.75 7.77 L434.50 7.77 L434.50 13.92 L435.33 13.92 L435.33 13.20 L436.17 13.20 L436.17 13.35 L437.00 13.35 L437.00 6.83 L438.00 6.83 L438.00 7.41 L439.00 7.41 L439.00 3.21 L439.73 3.21 L439.73 2.81 L440.47 2.81 L440.47 4.23 L441.20 4.23 L441.20 3.2 Z" fill="#4a467f"/>
<rect x="422.00" y="8.05" width="1.00" height="1.70" fill="#c64848"/>
<rect x="423.00" y="8.13" width="1.00" height="1.70" fill="#c64848"/>
<rect x="424.00" y="10.33" width="1.00" height="1.70" fill="#c64848"/>
<rect x="425.00" y="10.49" width="1.00" height="1.70" fill="#c64848"/>
<rect x="427.00" y="6.66" width="1.00" height="1.70" fill="#c64848"/>
<rect x="428.00" y="12.47" width="0.75" height="1.70" fill="#c64848"/>
<rect x="428.75" y="11.28" width="0.75" height="1.70" fill="#c64848"/>
<rect x="430.25" y="12.29" width="0.75" height="1.70" fill="#c64848"/>
<rect x="432.00" y="13.84" width="1.00" height="1.70" fill="#c64848"/>
<rect x="438.00" y="7.11" width="1.00" height="1.70" fill="#c64848"/>
<path d="M443.80 3.2 L443.80 18.67 L444.70 18.67 L444.70 18.68 L445.60 18.68 L445.60 15.66 L446.40 15.66 L446.40 15.08 L447.20 15.08 L447.20 15.56 L448.00 15.56 L448.00 17.91 L449.00 17.91 L449.00 18.30 L450.00 18.30 L450.00 16.00 L451.00 16.00 L451.00 16.89 L452.00 16.89 L452.00 19.47 L452.80 19.47 L452.80 20.04 L453.60 20.04 L453.60 14.51 L454.30 14.51 L454.30 16.21 L455.00 16.21 L455.00 16.66 L455.75 16.66 L455.75 16.81 L456.50 16.81 L456.50 21.03 L457.25 21.03 L457.25 20.61 L458.00 20.61 L458.00 26.64 L458.85 26.64 L458.85 25.28 L459.70 25.28 L459.70 22.46 L460.35 22.46 L460.35 23.33 L461.00 23.33 L461.00 37.79 L462.00 37.79 L462.00 29.65 L462.85 29.65 L462.85 28.82 L463.70 28.82 L463.70 41.97 L464.35 41.97 L464.35 42.29 L465.00 42.29 L465.00 44.82 L466.00 44.82 L466.00 3.2 Z" fill="#4a467f"/>
<rect x="443.80" y="18.37" width="0.90" height="1.90" fill="#c64848"/>
<rect x="445.60" y="15.36" width="0.80" height="1.90" fill="#c64848"/>
<rect x="448.00" y="17.61" width="1.00" height="1.90" fill="#c64848"/>
<rect x="449.00" y="18.00" width="1.00" height="1.90" fill="#c64848"/>
<rect x="450.00" y="15.70" width="1.00" height="1.90" fill="#c64848"/>
<rect x="451.00" y="16.59" width="1.00" height="1.90" fill="#c64848"/>
<rect x="452.80" y="19.74" width="0.80" height="1.90" fill="#c64848"/>
<rect x="453.60" y="14.21" width="0.70" height="1.90" fill="#c64848"/>
<rect x="456.50" y="20.73" width="0.75" height="1.90" fill="#c64848"/>
<rect x="457.25" y="20.31" width="0.75" height="1.90" fill="#c64848"/>
<rect x="458.85" y="24.98" width="0.85" height="1.90" fill="#c64848"/>
<rect x="461.00" y="37.49" width="1.00" height="1.90" fill="#c64848"/>
<polygon points="489.5,3.2 493.8,3.2 493.8,11.5" fill="#4a467f"/>
<rect x="487.80" y="3.20" width="1.60" height="2.30" fill="#5a8f3e"/>
<path d="M496.00 3.2 L496.00 21.00 L497.10 21.00 L497.10 16.40 L498.20 16.40 L498.20 13.70 L499.50 13.70 L499.50 14.60 L500.80 14.60 L500.80 23.70 L501.90 23.70 L501.90 27.00 L503.20 27.00 L503.20 33.00 L504.40 33.00 L504.40 32.00 L506.00 32.00 L506.00 3.2 Z" fill="#4a467f"/>
<rect x="497.10" y="22.00" width="0.70" height="18.00" fill="#4a467f"/>
<rect x="498.60" y="18.00" width="0.70" height="6.00" fill="#4a467f"/>
<rect x="500.20" y="28.00" width="0.60" height="10.00" fill="#4a467f"/>
<rect x="502.30" y="32.00" width="0.70" height="12.00" fill="#4a467f"/>
<rect x="504.60" y="36.00" width="0.70" height="10.00" fill="#4a467f"/>
<rect x="493.30" y="11.00" width="0.50" height="34.00" fill="#4a467f"/>
<rect x="508.00" y="48.00" width="4.80" height="51.60" fill="#c64848"/>
<rect x="510.50" y="33.00" width="2.30" height="15.50" fill="#c64848"/>
<rect x="508.00" y="8.00" width="0.70" height="25.00" fill="#bb9441"/>
<rect x="508.00" y="75.00" width="1.50" height="24.60" fill="#bb9441"/>
<rect x="515.20" y="3.20" width="1.50" height="3.80" fill="#4a467f"/>
<rect x="515.20" y="94.00" width="1.00" height="5.60" fill="#8a5aa0"/>
<text x="309.4" y="104.2" font-size="8.1" fill="#2a2a2a" stroke="#2a2a2a" stroke-width="0.15" text-anchor="end" transform="rotate(-90 309.4 104.2)">EUR</text>
<text x="409.2" y="104.6" font-size="8.1" fill="#2a2a2a" stroke="#2a2a2a" stroke-width="0.15" text-anchor="end" transform="rotate(-90 409.2 104.6)">EUR</text>
<text x="406.59999999999997" y="101.6" font-size="5.6" fill="#2a2a2a" stroke="#2a2a2a" stroke-width="0.15" text-anchor="end" transform="rotate(-90 406.59999999999997 101.6)">+</text>
<text x="433.3" y="104.2" font-size="8.1" fill="#2a2a2a" stroke="#2a2a2a" stroke-width="0.15" text-anchor="end" transform="rotate(-90 433.3 104.2)">AFR</text>
<text x="458.2" y="104.6" font-size="8.1" fill="#2a2a2a" stroke="#2a2a2a" stroke-width="0.15" text-anchor="end" transform="rotate(-90 458.2 104.6)">AFR</text>
<text x="455.59999999999997" y="101.6" font-size="5.6" fill="#2a2a2a" stroke="#2a2a2a" stroke-width="0.15" text-anchor="end" transform="rotate(-90 455.59999999999997 101.6)">+</text>
<text x="483.8" y="104.2" font-size="8.1" fill="#2a2a2a" stroke="#2a2a2a" stroke-width="0.15" text-anchor="end" transform="rotate(-90 483.8 104.2)">AMR</text>
<text x="504.2" y="104.6" font-size="8.1" fill="#2a2a2a" stroke="#2a2a2a" stroke-width="0.15" text-anchor="end" transform="rotate(-90 504.2 104.6)">AMR</text>
<text x="501.59999999999997" y="101.6" font-size="5.6" fill="#2a2a2a" stroke="#2a2a2a" stroke-width="0.15" text-anchor="end" transform="rotate(-90 501.59999999999997 101.6)">+</text>
<text x="513.3" y="104.2" font-size="8.1" fill="#2a2a2a" stroke="#2a2a2a" stroke-width="0.15" text-anchor="end" transform="rotate(-90 513.3 104.2)">MIX</text>
<text x="519.4" y="104.2" font-size="8.1" fill="#2a2a2a" stroke="#2a2a2a" stroke-width="0.15" text-anchor="end" transform="rotate(-90 519.4 104.2)">EAS</text>
<text x="368" y="129.8" font-size="9.6" fill="#2a2a2a" stroke="#2a2a2a" stroke-width="0.15" text-anchor="middle" font-weight="normal" >Individuals</text>
<text x="0.3" y="150.6" font-size="14.5" fill="#000" stroke="#000" stroke-width="0.1" text-anchor="start" font-weight="bold" >C</text>
<rect x="38.1" y="149.30" width="98.7" height="18.2" fill="#f3eef8" stroke="#d6cce8" stroke-width="0.8"/>
<rect x="38.1" y="149.30" width="10.66" height="18.2" fill="#bcb0d6"/>
<rect x="38.1" y="149.30" width="5.13" height="18.2" fill="#7358a2"/>
<text x="31.2" y="159.0" font-size="9.9" fill="#514d96" stroke="#514d96" stroke-width="0.15" text-anchor="end" font-weight="normal" >EUR</text>
<text x="140.3" y="159.0" font-size="9.9" fill="#514d96" stroke="#514d96" stroke-width="0.15" text-anchor="start" font-weight="normal" >261</text>
<rect x="38.1" y="169.38" width="98.7" height="18.2" fill="#f3eef8" stroke="#d6cce8" stroke-width="0.8"/>
<rect x="38.1" y="169.38" width="48.86" height="18.2" fill="#bcb0d6"/>
<rect x="38.1" y="169.38" width="1.88" height="18.2" fill="#7358a2"/>
<text x="31.2" y="179.07999999999998" font-size="9.9" fill="#5f9a45" stroke="#5f9a45" stroke-width="0.15" text-anchor="end" font-weight="normal" >AFR</text>
<text x="140.3" y="179.07999999999998" font-size="9.9" fill="#bd953c" stroke="#bd953c" stroke-width="0.15" text-anchor="start" font-weight="normal" >59</text>
<rect x="38.1" y="189.46" width="98.7" height="18.2" fill="#f3eef8" stroke="#d6cce8" stroke-width="0.8"/>
<rect x="38.1" y="189.46" width="29.61" height="18.2" fill="#bcb0d6"/>
<rect x="38.1" y="189.46" width="6.91" height="18.2" fill="#7358a2"/>
<text x="31.2" y="199.16" font-size="9.9" fill="#d33c3c" stroke="#d33c3c" stroke-width="0.15" text-anchor="end" font-weight="normal" >AMR</text>
<text x="140.3" y="199.16" font-size="9.9" fill="#d33c3c" stroke="#d33c3c" stroke-width="0.15" text-anchor="start" font-weight="normal" >46</text>
<rect x="38.1" y="209.54" width="98.7" height="18.2" fill="#f3eef8" stroke="#d6cce8" stroke-width="0.8"/>
<rect x="38.1" y="209.54" width="98.70" height="18.2" fill="#bcb0d6"/>
<rect x="38.1" y="209.54" width="98.70" height="18.2" fill="#7358a2"/>
<text x="31.2" y="219.24" font-size="9.9" fill="#222" stroke="#222" stroke-width="0.15" text-anchor="end" font-weight="normal" >MIX</text>
<text x="140.3" y="219.24" font-size="9.9" fill="#222" stroke="#222" stroke-width="0.15" text-anchor="start" font-weight="normal" >6</text>
<rect x="38.1" y="229.62" width="98.7" height="18.2" fill="#f3eef8" stroke="#d6cce8" stroke-width="0.8"/>
<text x="31.2" y="239.32" font-size="9.9" fill="#bd953c" stroke="#bd953c" stroke-width="0.15" text-anchor="end" font-weight="normal" >EAS</text>
<text x="140.3" y="239.32" font-size="9.9" fill="#5f9a45" stroke="#5f9a45" stroke-width="0.15" text-anchor="start" font-weight="normal" >5</text>
<line x1="87.45" y1="146" x2="87.45" y2="251" stroke="#777" stroke-width="0.6" stroke-dasharray="1.5,1"/>
<text x="38.1" y="261.6" font-size="9.9" fill="#2a2a2a" stroke="#2a2a2a" stroke-width="0.15" text-anchor="middle" font-weight="normal" >0</text>
<text x="62.8" y="261.6" font-size="9.9" fill="#2a2a2a" stroke="#2a2a2a" stroke-width="0.15" text-anchor="middle" font-weight="normal" >25</text>
<text x="87.45" y="261.6" font-size="9.9" fill="#2a2a2a" stroke="#2a2a2a" stroke-width="0.15" text-anchor="middle" font-weight="normal" >50</text>
<text x="112.1" y="261.6" font-size="9.9" fill="#2a2a2a" stroke="#2a2a2a" stroke-width="0.15" text-anchor="middle" font-weight="normal" >75</text>
<text x="136.8" y="261.6" font-size="9.9" fill="#2a2a2a" stroke="#2a2a2a" stroke-width="0.15" text-anchor="middle" font-weight="normal" >100</text>
<text x="87.2" y="271.6" font-size="9.8" fill="#2a2a2a" stroke="#2a2a2a" stroke-width="0.15" text-anchor="middle" font-weight="normal" >Self-reported ethnicity (%)</text>
<text x="7.8" y="199.3" font-size="9.4" fill="#2a2a2a" stroke="#2a2a2a" stroke-width="0.15" text-anchor="middle" font-weight="normal" transform="rotate(-90 7.8 199.3)" >Genetic Ancestry</text>
<text x="155.8" y="198.1" font-size="9.55" fill="#2a2a2a" stroke="#2a2a2a" stroke-width="0.15" text-anchor="middle" font-weight="normal" transform="rotate(90 155.8 198.1)" >Total Count</text>
<text x="206.8" y="151" font-size="14.5" fill="#000" stroke="#000" stroke-width="0.1" text-anchor="start" font-weight="bold" >D</text>
<rect x="245.7" y="149.5" width="99" height="97.6" fill="#fff" stroke="#999" stroke-width="1"/>
<text x="244.3" y="244.8" font-size="9.6" fill="#2a2a2a" stroke="#2a2a2a" stroke-width="0.15" text-anchor="end" font-weight="normal" >0.0</text>
<text x="244.3" y="220.5" font-size="9.6" fill="#2a2a2a" stroke="#2a2a2a" stroke-width="0.15" text-anchor="end" font-weight="normal" >0.1</text>
<text x="244.3" y="196.20000000000002" font-size="9.6" fill="#2a2a2a" stroke="#2a2a2a" stroke-width="0.15" text-anchor="end" font-weight="normal" >0.2</text>
<text x="244.3" y="171.90000000000003" font-size="9.6" fill="#2a2a2a" stroke="#2a2a2a" stroke-width="0.15" text-anchor="end" font-weight="normal" >0.3</text>
<text x="258.2" y="258.1" font-size="9.6" fill="#2a2a2a" stroke="#2a2a2a" stroke-width="0.15" text-anchor="middle" font-weight="normal" >EUR</text>
<text x="295.5" y="258.1" font-size="9.6" fill="#2a2a2a" stroke="#2a2a2a" stroke-width="0.15" text-anchor="middle" font-weight="normal" >AFR</text>
<text x="332.3" y="258.1" font-size="9.6" fill="#2a2a2a" stroke="#2a2a2a" stroke-width="0.15" text-anchor="middle" font-weight="normal" >AMR</text>
<text x="227.7" y="252.5" font-size="9" fill="#2a2a2a" stroke="#2a2a2a" stroke-width="0.18" text-anchor="start" textLength="94.2" lengthAdjust="spacingAndGlyphs" transform="rotate(-90 227.7 252.5)">EUR GRS (Elevated Risk</text>
<text x="227.7" y="143.8" font-size="9" fill="#2a2a2a" text-anchor="end" transform="rotate(-90 227.7 143.8)">)</text>
<path d="M225.3 154.8 V147.4 M223.70000000000002 149.29999999999998 L225.3 147.1 L226.9 149.29999999999998" fill="none" stroke="#2a2a2a" stroke-width="0.75"/>
<line x1="252.9" y1="196.4" x2="252.9" y2="210" stroke="#4a48a0" stroke-width="0.7"/>
<line x1="252.9" y1="181.8" x2="252.9" y2="170" stroke="#4a48a0" stroke-width="0.7"/>
<rect x="248" y="181.8" width="9.80" height="14.60" fill="#6867b1" stroke="#4a48a0" stroke-width="0.6"/>
<line x1="248" y1="188.5" x2="257.8" y2="188.5" stroke="#4a48a0" stroke-width="0.8"/>
<circle cx="254.3" cy="183.8" r="1.1" fill="#3a378c" fill-opacity="0.55"/>
<circle cx="253.3" cy="188.4" r="1.1" fill="#3a378c" fill-opacity="0.55"/>
<circle cx="252.1" cy="189.1" r="1.1" fill="#3a378c" fill-opacity="0.55"/>
<circle cx="251.3" cy="189.1" r="1.1" fill="#3a378c" fill-opacity="0.55"/>
<circle cx="255.3" cy="189.9" r="1.1" fill="#3a378c" fill-opacity="0.55"/>
<circle cx="251.4" cy="189.4" r="1.1" fill="#3a378c" fill-opacity="0.55"/>
<circle cx="252.1" cy="190.0" r="1.1" fill="#3a378c" fill-opacity="0.55"/>
<circle cx="255.2" cy="191.4" r="1.1" fill="#3a378c" fill-opacity="0.55"/>
<circle cx="253.2" cy="190.8" r="1.1" fill="#3a378c" fill-opacity="0.55"/>
<circle cx="252.5" cy="187.9" r="1.1" fill="#3a378c" fill-opacity="0.55"/>
<circle cx="252.1" cy="184.0" r="1.1" fill="#3a378c" fill-opacity="0.55"/>
<circle cx="252.8" cy="184.7" r="1.1" fill="#3a378c" fill-opacity="0.55"/>
<circle cx="254.5" cy="190.5" r="1.1" fill="#3a378c" fill-opacity="0.55"/>
<circle cx="251.6" cy="193.4" r="1.1" fill="#3a378c" fill-opacity="0.55"/>
<circle cx="253.0" cy="182.6" r="1.1" fill="#3a378c" fill-opacity="0.55"/>
<circle cx="253.4" cy="188.3" r="1.1" fill="#3a378c" fill-opacity="0.55"/>
<circle cx="253.4" cy="186.2" r="1.1" fill="#3a378c" fill-opacity="0.55"/>
<circle cx="252.4" cy="185.3" r="1.1" fill="#3a378c" fill-opacity="0.55"/>
<circle cx="251.7" cy="184.9" r="1.1" fill="#3a378c" fill-opacity="0.55"/>
<circle cx="253.7" cy="185.5" r="1.1" fill="#3a378c" fill-opacity="0.55"/>
<circle cx="251.3" cy="194.8" r="1.1" fill="#3a378c" fill-opacity="0.55"/>
<circle cx="254.3" cy="191.5" r="1.1" fill="#3a378c" fill-opacity="0.55"/>
<circle cx="255.5" cy="196.2" r="1.1" fill="#3a378c" fill-opacity="0.55"/>
<circle cx="251.4" cy="188.7" r="1.1" fill="#3a378c" fill-opacity="0.55"/>
<circle cx="253.5" cy="183.5" r="1.1" fill="#3a378c" fill-opacity="0.55"/>
<circle cx="251.7" cy="189.8" r="1.1" fill="#3a378c" fill-opacity="0.55"/>
<circle cx="251.5" cy="185.6" r="1.1" fill="#3a378c" fill-opacity="0.55"/>
<circle cx="253.0" cy="192.4" r="1.1" fill="#3a378c" fill-opacity="0.55"/>
<circle cx="253.1" cy="190.6" r="1.1" fill="#3a378c" fill-opacity="0.55"/>
<circle cx="252.8" cy="188.0" r="1.1" fill="#3a378c" fill-opacity="0.55"/>
<circle cx="253.6" cy="187.4" r="1.1" fill="#3a378c" fill-opacity="0.55"/>
<circle cx="252.6" cy="186.7" r="1.1" fill="#3a378c" fill-opacity="0.55"/>
<circle cx="254.2" cy="192.5" r="1.1" fill="#3a378c" fill-opacity="0.55"/>
<circle cx="251.5" cy="188.9" r="1.1" fill="#3a378c" fill-opacity="0.55"/>
<circle cx="251.7" cy="187.6" r="1.1" fill="#3a378c" fill-opacity="0.55"/>
<circle cx="253.7" cy="187.2" r="1.1" fill="#3a378c" fill-opacity="0.55"/>
<circle cx="252.2" cy="196.9" r="1.1" fill="#3a378c" fill-opacity="0.55"/>
<circle cx="252.5" cy="182.5" r="1.1" fill="#3a378c" fill-opacity="0.55"/>
<circle cx="253.3" cy="192.3" r="1.1" fill="#3a378c" fill-opacity="0.55"/>
<circle cx="252.9" cy="187.8" r="1.1" fill="#3a378c" fill-opacity="0.55"/>
<circle cx="252.8" cy="202.2" r="1.1" fill="#3a378c" fill-opacity="0.8"/>
<circle cx="252.3" cy="197.6" r="1.1" fill="#3a378c" fill-opacity="0.8"/>
<circle cx="253.0" cy="205.8" r="1.1" fill="#3a378c" fill-opacity="0.8"/>
<circle cx="253.5" cy="203.0" r="1.1" fill="#3a378c" fill-opacity="0.8"/>
<circle cx="254.7" cy="196.3" r="1.1" fill="#3a378c" fill-opacity="0.8"/>
<circle cx="253.4" cy="197.4" r="1.1" fill="#3a378c" fill-opacity="0.8"/>
<circle cx="254.0" cy="202.4" r="1.1" fill="#3a378c" fill-opacity="0.8"/>
<circle cx="252.4" cy="196.4" r="1.1" fill="#3a378c" fill-opacity="0.8"/>
<circle cx="254.0" cy="196.7" r="1.1" fill="#3a378c" fill-opacity="0.8"/>
<circle cx="253.6" cy="196.5" r="1.1" fill="#3a378c" fill-opacity="0.8"/>
<circle cx="252.4" cy="204.6" r="1.1" fill="#3a378c" fill-opacity="0.8"/>
<circle cx="252.4" cy="203.6" r="1.1" fill="#3a378c" fill-opacity="0.8"/>
<circle cx="253.9" cy="198.0" r="1.1" fill="#3a378c" fill-opacity="0.8"/>
<circle cx="253.9" cy="205.5" r="1.1" fill="#3a378c" fill-opacity="0.8"/>
<circle cx="252.6" cy="201.3" r="1.1" fill="#3a378c" fill-opacity="0.8"/>
<circle cx="252.5" cy="202.6" r="1.1" fill="#3a378c" fill-opacity="0.8"/>
<circle cx="252.7" cy="204.8" r="1.1" fill="#3a378c" fill-opacity="0.8"/>
<circle cx="253.5" cy="203.6" r="1.1" fill="#3a378c" fill-opacity="0.8"/>
<circle cx="252.8" cy="178.1" r="1.1" fill="#3a378c" fill-opacity="0.8"/>
<circle cx="252.6" cy="181.6" r="1.1" fill="#3a378c" fill-opacity="0.8"/>
<circle cx="252.5" cy="176.3" r="1.1" fill="#3a378c" fill-opacity="0.8"/>
<circle cx="252.8" cy="180.6" r="1.1" fill="#3a378c" fill-opacity="0.8"/>
<circle cx="252.6" cy="181.5" r="1.1" fill="#3a378c" fill-opacity="0.8"/>
<circle cx="252.8" cy="180.6" r="1.1" fill="#3a378c" fill-opacity="0.8"/>
<circle cx="251.8" cy="179.6" r="1.1" fill="#3a378c" fill-opacity="0.8"/>
<circle cx="252.3" cy="178.9" r="1.1" fill="#3a378c" fill-opacity="0.8"/>
<circle cx="253.2" cy="177.7" r="1.1" fill="#3a378c" fill-opacity="0.8"/>
<circle cx="252.0" cy="180.5" r="1.1" fill="#3a378c" fill-opacity="0.8"/>
<circle cx="252.7" cy="166.6" r="1.0" fill="#3a378c" fill-opacity="0.85"/>
<circle cx="253.4" cy="171.2" r="1.0" fill="#3a378c" fill-opacity="0.85"/>
<circle cx="252.3" cy="175.8" r="1.0" fill="#3a378c" fill-opacity="0.85"/>
<circle cx="252.7" cy="178.0" r="1.0" fill="#3a378c" fill-opacity="0.85"/>
<circle cx="252.8" cy="199.0" r="1.0" fill="#3a378c" fill-opacity="0.85"/>
<circle cx="252.6" cy="201.0" r="1.0" fill="#3a378c" fill-opacity="0.85"/>
<circle cx="252.6" cy="204.0" r="1.0" fill="#3a378c" fill-opacity="0.85"/>
<circle cx="253.0" cy="206.0" r="1.0" fill="#3a378c" fill-opacity="0.85"/>
<circle cx="252.4" cy="210.0" r="1.0" fill="#3a378c" fill-opacity="0.85"/>
<circle cx="251.7" cy="212.0" r="1.0" fill="#3a378c" fill-opacity="0.85"/>
<circle cx="252.5" cy="216.5" r="0.9" fill="#4a48a0" fill-opacity="0.8"/>
<circle cx="253" cy="208.5" r="1.3" fill="none" stroke="#4a48a0" stroke-width="0.6"/>
<line x1="264.1" y1="180.4" x2="264.1" y2="186" stroke="#4a48a0" stroke-width="0.7"/>
<line x1="264.1" y1="171" x2="264.1" y2="165" stroke="#4a48a0" stroke-width="0.7"/>
<rect x="259.4" y="171" width="9.40" height="9.40" fill="#fff" stroke="#4a48a0" stroke-width="0.7"/>
<line x1="259.4" y1="175.3" x2="268.8" y2="175.3" stroke="#4a48a0" stroke-width="0.7"/>
<circle cx="264.6" cy="180.4" r="1.1" fill="#3a378c" fill-opacity="0.8"/>
<circle cx="263.8" cy="173.9" r="1.1" fill="#3a378c" fill-opacity="0.8"/>
<circle cx="266.4" cy="180.3" r="1.1" fill="#3a378c" fill-opacity="0.8"/>
<circle cx="263.3" cy="172.5" r="1.1" fill="#3a378c" fill-opacity="0.8"/>
<circle cx="264.6" cy="173.6" r="1.1" fill="#3a378c" fill-opacity="0.8"/>
<circle cx="265.0" cy="166.3" r="1.1" fill="#3a378c" fill-opacity="0.8"/>
<circle cx="264.2" cy="177.8" r="1.1" fill="#3a378c" fill-opacity="0.8"/>
<circle cx="264.4" cy="179.9" r="1.1" fill="#3a378c" fill-opacity="0.8"/>
<circle cx="264.4" cy="167.6" r="1.1" fill="#3a378c" fill-opacity="0.8"/>
<circle cx="264.5" cy="166.4" r="1.1" fill="#3a378c" fill-opacity="0.8"/>
<circle cx="263.8" cy="179.9" r="1.1" fill="#3a378c" fill-opacity="0.8"/>
<circle cx="264.6" cy="176.9" r="1.1" fill="#3a378c" fill-opacity="0.8"/>
<circle cx="265.3" cy="172.1" r="1.1" fill="#3a378c" fill-opacity="0.8"/>
<circle cx="265.1" cy="180.8" r="1.1" fill="#3a378c" fill-opacity="0.8"/>
<circle cx="263.7" cy="173.3" r="1.1" fill="#3a378c" fill-opacity="0.8"/>
<circle cx="265.6" cy="165.3" r="1.1" fill="#3a378c" fill-opacity="0.8"/>
<circle cx="263.9" cy="169.2" r="1.1" fill="#3a378c" fill-opacity="0.8"/>
<circle cx="264.0" cy="165.2" r="1.1" fill="#3a378c" fill-opacity="0.8"/>
<circle cx="264.5" cy="179.7" r="1.1" fill="#3a378c" fill-opacity="0.8"/>
<circle cx="263.3" cy="179.1" r="1.1" fill="#3a378c" fill-opacity="0.8"/>
<circle cx="264.4" cy="176.5" r="1.1" fill="#3a378c" fill-opacity="0.8"/>
<circle cx="266.2" cy="170.9" r="1.1" fill="#3a378c" fill-opacity="0.8"/>
<circle cx="264.0" cy="174.8" r="1.1" fill="#3a378c" fill-opacity="0.8"/>
<circle cx="264.2" cy="170.0" r="1.1" fill="#3a378c" fill-opacity="0.8"/>
<circle cx="263.9" cy="168.8" r="1.1" fill="#3a378c" fill-opacity="0.8"/>
<circle cx="265.3" cy="171.0" r="1.1" fill="#3a378c" fill-opacity="0.8"/>
<circle cx="264.6" cy="173.0" r="1.1" fill="#3a378c" fill-opacity="0.8"/>
<circle cx="264.0" cy="166.5" r="1.1" fill="#3a378c" fill-opacity="0.8"/>
<circle cx="264.7" cy="180.7" r="1.1" fill="#3a378c" fill-opacity="0.8"/>
<circle cx="263.0" cy="174.5" r="1.1" fill="#3a378c" fill-opacity="0.8"/>
<circle cx="263.0" cy="180.0" r="1.1" fill="#3a378c" fill-opacity="0.8"/>
<circle cx="263.4" cy="165.7" r="1.1" fill="#3a378c" fill-opacity="0.8"/>
<circle cx="264.7" cy="173.9" r="1.1" fill="#3a378c" fill-opacity="0.8"/>
<circle cx="263.0" cy="175.6" r="1.1" fill="#3a378c" fill-opacity="0.8"/>
<circle cx="263.1" cy="174.1" r="1.1" fill="#3a378c" fill-opacity="0.8"/>
<circle cx="262.7" cy="164.1" r="1.1" fill="#3a378c" fill-opacity="0.8"/>
<circle cx="263.4" cy="173.7" r="1.1" fill="#3a378c" fill-opacity="0.8"/>
<circle cx="263.2" cy="172.6" r="1.1" fill="#3a378c" fill-opacity="0.8"/>
<circle cx="264.1" cy="178.7" r="1.1" fill="#3a378c" fill-opacity="0.8"/>
<circle cx="264.5" cy="171.4" r="1.1" fill="#3a378c" fill-opacity="0.8"/>
<circle cx="264.6" cy="173.2" r="1.1" fill="#3a378c" fill-opacity="0.8"/>
<circle cx="264.6" cy="169.2" r="1.1" fill="#3a378c" fill-opacity="0.8"/>
<circle cx="263.9" cy="171.6" r="1.1" fill="#3a378c" fill-opacity="0.8"/>
<circle cx="265.2" cy="175.6" r="1.1" fill="#3a378c" fill-opacity="0.8"/>
<circle cx="264.5" cy="168.0" r="1.1" fill="#3a378c" fill-opacity="0.8"/>
<circle cx="263.6" cy="167.5" r="1.1" fill="#3a378c" fill-opacity="0.8"/>
<circle cx="263.0" cy="169.3" r="1.1" fill="#3a378c" fill-opacity="0.8"/>
<circle cx="264.7" cy="174.7" r="1.1" fill="#3a378c" fill-opacity="0.8"/>
<circle cx="264.8" cy="175.7" r="1.1" fill="#3a378c" fill-opacity="0.8"/>
<circle cx="265.3" cy="172.4" r="1.1" fill="#3a378c" fill-opacity="0.8"/>
<circle cx="263.8" cy="168.2" r="1.1" fill="#3a378c" fill-opacity="0.8"/>
<circle cx="264.0" cy="176.7" r="1.1" fill="#3a378c" fill-opacity="0.8"/>
<circle cx="264.6" cy="178.0" r="1.1" fill="#3a378c" fill-opacity="0.8"/>
<circle cx="263.3" cy="174.3" r="1.1" fill="#3a378c" fill-opacity="0.8"/>
<circle cx="263.2" cy="176.2" r="1.1" fill="#3a378c" fill-opacity="0.8"/>
<circle cx="262.7" cy="180.6" r="1.1" fill="#3a378c" fill-opacity="0.8"/>
<circle cx="264.5" cy="176.2" r="1.1" fill="#3a378c" fill-opacity="0.8"/>
<circle cx="263.6" cy="174.1" r="1.1" fill="#3a378c" fill-opacity="0.8"/>
<circle cx="265.5" cy="169.6" r="1.1" fill="#3a378c" fill-opacity="0.8"/>
<circle cx="264.1" cy="167.6" r="1.1" fill="#3a378c" fill-opacity="0.8"/>
<circle cx="265.4" cy="187.3" r="1.1" fill="#3a378c" fill-opacity="0.8"/>
<circle cx="264.1" cy="180.9" r="1.1" fill="#3a378c" fill-opacity="0.8"/>
<circle cx="263.5" cy="182.0" r="1.1" fill="#3a378c" fill-opacity="0.8"/>
<circle cx="264.5" cy="181.7" r="1.1" fill="#3a378c" fill-opacity="0.8"/>
<circle cx="264.0" cy="185.7" r="1.1" fill="#3a378c" fill-opacity="0.8"/>
<circle cx="263.1" cy="187.6" r="1.1" fill="#3a378c" fill-opacity="0.8"/>
<circle cx="264.5" cy="181.6" r="1.1" fill="#3a378c" fill-opacity="0.8"/>
<circle cx="264.0" cy="182.8" r="1.1" fill="#3a378c" fill-opacity="0.8"/>
<circle cx="262.2" cy="186.8" r="1.1" fill="#3a378c" fill-opacity="0.8"/>
<circle cx="263.8" cy="183.7" r="1.1" fill="#3a378c" fill-opacity="0.8"/>
<circle cx="263.9" cy="181.6" r="1.1" fill="#3a378c" fill-opacity="0.8"/>
<circle cx="262.9" cy="183.8" r="1.1" fill="#3a378c" fill-opacity="0.8"/>
<circle cx="263.5" cy="191.7" r="1.3" fill="none" stroke="#4a48a0" stroke-width="0.6"/>
<circle cx="263.5" cy="197.8" r="1.3" fill="none" stroke="#4a48a0" stroke-width="0.6"/>
<line x1="289.9" y1="192.1" x2="289.9" y2="202.8" stroke="#c9982f" stroke-width="0.7"/>
<line x1="289.9" y1="186.9" x2="289.9" y2="184" stroke="#c9982f" stroke-width="0.7"/>
<rect x="285" y="186.9" width="9.80" height="5.20" fill="#d0aa5a" stroke="#c9982f" stroke-width="0.6"/>
<line x1="285" y1="189.5" x2="294.8" y2="189.5" stroke="#c9982f" stroke-width="0.8"/>
<circle cx="289.5" cy="183.1" r="0.9" fill="#c9982f" fill-opacity="0.8"/>
<circle cx="289.5" cy="182.3" r="0.9" fill="#c9982f" fill-opacity="0.8"/>
<circle cx="289.7" cy="185.0" r="0.9" fill="#c9982f" fill-opacity="0.8"/>
<circle cx="290.1" cy="193.0" r="0.9" fill="#c9982f" fill-opacity="0.8"/>
<circle cx="291.3" cy="195.0" r="0.9" fill="#c9982f" fill-opacity="0.8"/>
<circle cx="288.8" cy="215.5" r="1.3" fill="none" stroke="#c9982f" stroke-width="0.6"/>
<line x1="300.85" y1="187.3" x2="300.85" y2="190" stroke="#c9982f" stroke-width="0.7"/>
<line x1="300.85" y1="184.8" x2="300.85" y2="183" stroke="#c9982f" stroke-width="0.7"/>
<rect x="296.2" y="184.8" width="9.30" height="2.50" fill="#fff" stroke="#c9982f" stroke-width="0.7"/>
<line x1="296.2" y1="186" x2="305.5" y2="186" stroke="#c9982f" stroke-width="0.7"/>
<circle cx="301.0" cy="183.7" r="0.8" fill="#c9982f" fill-opacity="0.8"/>
<circle cx="300.0" cy="185.0" r="0.8" fill="#c9982f" fill-opacity="0.8"/>
<circle cx="300.0" cy="187.0" r="0.8" fill="#c9982f" fill-opacity="0.8"/>
<circle cx="300.3" cy="189.0" r="0.8" fill="#c9982f" fill-opacity="0.8"/>
<line x1="326.9" y1="189.6" x2="326.9" y2="200.2" stroke="#d9474a" stroke-width="0.7"/>
<line x1="326.9" y1="178.8" x2="326.9" y2="175.5" stroke="#d9474a" stroke-width="0.7"/>
<rect x="321.9" y="178.8" width="10.00" height="10.80" fill="#dd5a5c" stroke="#d9474a" stroke-width="0.6"/>
<line x1="321.9" y1="184" x2="331.9" y2="184" stroke="#d9474a" stroke-width="0.8"/>
<circle cx="326.7" cy="182.0" r="0.8" fill="#c03535" fill-opacity="0.5"/>
<circle cx="327.2" cy="183.0" r="0.8" fill="#c03535" fill-opacity="0.5"/>
<circle cx="326.2" cy="188.5" r="0.8" fill="#c03535" fill-opacity="0.5"/>
<circle cx="325.8" cy="188.7" r="0.8" fill="#c03535" fill-opacity="0.5"/>
<circle cx="325.5" cy="188.9" r="0.8" fill="#c03535" fill-opacity="0.5"/>
<circle cx="327.3" cy="188.6" r="0.8" fill="#c03535" fill-opacity="0.5"/>
<circle cx="326.4" cy="183.6" r="0.8" fill="#c03535" fill-opacity="0.5"/>
<circle cx="325.9" cy="180.6" r="0.8" fill="#c03535" fill-opacity="0.5"/>
<circle cx="325.0" cy="188.3" r="0.8" fill="#c03535" fill-opacity="0.5"/>
<circle cx="327.3" cy="179.7" r="0.8" fill="#c03535" fill-opacity="0.5"/>
<circle cx="326.8" cy="170.4" r="1.0" fill="#d9474a" fill-opacity="0.9"/>
<circle cx="327.8" cy="174.2" r="1.0" fill="#d9474a" fill-opacity="0.9"/>
<circle cx="327.2" cy="198.5" r="1.0" fill="#d9474a" fill-opacity="0.9"/>
<circle cx="326.8" cy="201.1" r="1.0" fill="#d9474a" fill-opacity="0.9"/>
<line x1="338.15" y1="176.8" x2="338.15" y2="188.9" stroke="#d9474a" stroke-width="0.7"/>
<line x1="338.15" y1="170.4" x2="338.15" y2="165.5" stroke="#d9474a" stroke-width="0.7"/>
<rect x="333.4" y="170.4" width="9.50" height="6.40" fill="#fff" stroke="#d9474a" stroke-width="0.7"/>
<line x1="333.4" y1="172.4" x2="342.9" y2="172.4" stroke="#d9474a" stroke-width="0.7"/>
<circle cx="337.4" cy="165.5" r="1.0" fill="#d9474a" fill-opacity="0.9"/>
<circle cx="337.3" cy="171.5" r="1.0" fill="#d9474a" fill-opacity="0.9"/>
<circle cx="337.9" cy="173.5" r="1.0" fill="#d9474a" fill-opacity="0.9"/>
<circle cx="337.9" cy="188.9" r="1.0" fill="#d9474a" fill-opacity="0.9"/>
<path d="M251 162.4 V161 H266.4 V162.4" fill="none" stroke="#777" stroke-width="0.6"/>
<text x="258.7" y="163.2" font-size="9.5" fill="#111" stroke="#111" stroke-width="0.15" text-anchor="middle" font-weight="normal" >***</text>
<line x1="265.6" y1="156.6" x2="303.3" y2="156.6" stroke="#777" stroke-width="0.6"/>
<text x="284.6" y="159.4" font-size="9.5" fill="#111" stroke="#111" stroke-width="0.15" text-anchor="middle" font-weight="normal" >*</text>
<path d="M324.8 162.6 V161.2 H340.1 V162.6" fill="none" stroke="#777" stroke-width="0.6"/>
<text x="332.45000000000005" y="163.39999999999998" font-size="9.5" fill="#111" stroke="#111" stroke-width="0.15" text-anchor="middle" font-weight="normal" >*</text>
<text x="384" y="150" font-size="14.5" fill="#000" stroke="#000" stroke-width="0.1" text-anchor="start" font-weight="bold" >E</text>
<rect x="419.3" y="149.7" width="98.4" height="97.9" fill="#fff" stroke="#999" stroke-width="1"/>
<text x="418.2" y="228.3" font-size="9.6" fill="#2a2a2a" stroke="#2a2a2a" stroke-width="0.15" text-anchor="end" font-weight="normal" >0</text>
<text x="418.2" y="192.1" font-size="9.6" fill="#2a2a2a" stroke="#2a2a2a" stroke-width="0.15" text-anchor="end" font-weight="normal" >5</text>
<text x="418.2" y="155.4" font-size="9.6" fill="#2a2a2a" stroke="#2a2a2a" stroke-width="0.15" text-anchor="end" font-weight="normal" >10</text>
<text x="432.3" y="258.1" font-size="9.6" fill="#2a2a2a" stroke="#2a2a2a" stroke-width="0.15" text-anchor="middle" font-weight="normal" >EUR</text>
<text x="469.2" y="258.1" font-size="9.6" fill="#2a2a2a" stroke="#2a2a2a" stroke-width="0.15" text-anchor="middle" font-weight="normal" >AFR</text>
<text x="506.2" y="258.1" font-size="9.6" fill="#2a2a2a" stroke="#2a2a2a" stroke-width="0.15" text-anchor="middle" font-weight="normal" >AMR</text>
<text x="404.3" y="252.0" font-size="9" fill="#2a2a2a" stroke="#2a2a2a" stroke-width="0.18" text-anchor="start" textLength="91.9" lengthAdjust="spacingAndGlyphs" transform="rotate(-90 404.3 252.0)">AFR GRS (Elevated Risk</text>
<text x="404.3" y="145.8" font-size="9" fill="#2a2a2a" text-anchor="end" transform="rotate(-90 404.3 145.8)">)</text>
<path d="M401.6 157.3 V150.0 M400.0 151.89999999999998 L401.6 149.7 L403.20000000000005 151.89999999999998" fill="none" stroke="#2a2a2a" stroke-width="0.75"/>
<line x1="426.85" y1="229.3" x2="426.85" y2="238.8" stroke="#4a48a0" stroke-width="0.7"/>
<line x1="426.85" y1="203.8" x2="426.85" y2="188" stroke="#4a48a0" stroke-width="0.7"/>
<rect x="422.3" y="203.8" width="9.10" height="25.50" fill="#6867b1" stroke="#4a48a0" stroke-width="0.6"/>
<line x1="422.3" y1="213" x2="431.4" y2="213" stroke="#4a48a0" stroke-width="0.8"/>
<circle cx="428.2" cy="221.6" r="1.1" fill="#3a378c" fill-opacity="0.5"/>
<circle cx="427.0" cy="229.5" r="1.1" fill="#3a378c" fill-opacity="0.5"/>
<circle cx="427.6" cy="221.3" r="1.1" fill="#3a378c" fill-opacity="0.5"/>
<circle cx="426.7" cy="216.0" r="1.1" fill="#3a378c" fill-opacity="0.5"/>
<circle cx="425.8" cy="224.7" r="1.1" fill="#3a378c" fill-opacity="0.5"/>
<circle cx="425.4" cy="224.6" r="1.1" fill="#3a378c" fill-opacity="0.5"/>
<circle cx="427.3" cy="212.7" r="1.1" fill="#3a378c" fill-opacity="0.5"/>
<circle cx="425.2" cy="220.7" r="1.1" fill="#3a378c" fill-opacity="0.5"/>
<circle cx="425.5" cy="211.6" r="1.1" fill="#3a378c" fill-opacity="0.5"/>
<circle cx="427.0" cy="216.1" r="1.1" fill="#3a378c" fill-opacity="0.5"/>
<circle cx="426.4" cy="219.8" r="1.1" fill="#3a378c" fill-opacity="0.5"/>
<circle cx="427.6" cy="205.3" r="1.1" fill="#3a378c" fill-opacity="0.5"/>
<circle cx="425.7" cy="227.2" r="1.1" fill="#3a378c" fill-opacity="0.5"/>
<circle cx="425.9" cy="207.1" r="1.1" fill="#3a378c" fill-opacity="0.5"/>
<circle cx="425.8" cy="211.2" r="1.1" fill="#3a378c" fill-opacity="0.5"/>
<circle cx="425.8" cy="213.4" r="1.1" fill="#3a378c" fill-opacity="0.5"/>
<circle cx="426.5" cy="205.3" r="1.1" fill="#3a378c" fill-opacity="0.5"/>
<circle cx="428.3" cy="218.2" r="1.1" fill="#3a378c" fill-opacity="0.5"/>
<circle cx="427.5" cy="211.8" r="1.1" fill="#3a378c" fill-opacity="0.5"/>
<circle cx="426.2" cy="228.5" r="1.1" fill="#3a378c" fill-opacity="0.5"/>
<circle cx="426.0" cy="217.3" r="1.1" fill="#3a378c" fill-opacity="0.5"/>
<circle cx="427.3" cy="212.3" r="1.1" fill="#3a378c" fill-opacity="0.5"/>
<circle cx="427.3" cy="218.7" r="1.1" fill="#3a378c" fill-opacity="0.5"/>
<circle cx="427.1" cy="220.7" r="1.1" fill="#3a378c" fill-opacity="0.5"/>
<circle cx="425.4" cy="208.7" r="1.1" fill="#3a378c" fill-opacity="0.5"/>
<circle cx="425.3" cy="204.9" r="1.1" fill="#3a378c" fill-opacity="0.5"/>
<circle cx="426.1" cy="210.9" r="1.1" fill="#3a378c" fill-opacity="0.5"/>
<circle cx="427.9" cy="219.4" r="1.1" fill="#3a378c" fill-opacity="0.5"/>
<circle cx="425.6" cy="218.6" r="1.1" fill="#3a378c" fill-opacity="0.5"/>
<circle cx="426.5" cy="226.1" r="1.1" fill="#3a378c" fill-opacity="0.5"/>
<circle cx="426.4" cy="196.2" r="1.1" fill="#3a378c" fill-opacity="0.8"/>
<circle cx="426.3" cy="198.5" r="1.1" fill="#3a378c" fill-opacity="0.8"/>
<circle cx="426.4" cy="188.7" r="1.1" fill="#3a378c" fill-opacity="0.8"/>
<circle cx="425.7" cy="191.5" r="1.1" fill="#3a378c" fill-opacity="0.8"/>
<circle cx="426.2" cy="197.8" r="1.1" fill="#3a378c" fill-opacity="0.8"/>
<circle cx="426.9" cy="194.5" r="1.1" fill="#3a378c" fill-opacity="0.8"/>
<circle cx="426.6" cy="191.0" r="1.1" fill="#3a378c" fill-opacity="0.8"/>
<circle cx="425.3" cy="193.9" r="1.1" fill="#3a378c" fill-opacity="0.8"/>
<circle cx="427.0" cy="193.2" r="1.1" fill="#3a378c" fill-opacity="0.8"/>
<circle cx="424.5" cy="203.0" r="1.1" fill="#3a378c" fill-opacity="0.8"/>
<circle cx="425.5" cy="197.5" r="1.1" fill="#3a378c" fill-opacity="0.8"/>
<circle cx="425.9" cy="189.1" r="1.1" fill="#3a378c" fill-opacity="0.8"/>
<circle cx="426.6" cy="192.1" r="1.1" fill="#3a378c" fill-opacity="0.8"/>
<circle cx="426.0" cy="197.0" r="1.1" fill="#3a378c" fill-opacity="0.8"/>
<circle cx="426.2" cy="186.3" r="1.1" fill="#3a378c" fill-opacity="0.8"/>
<circle cx="425.8" cy="186.8" r="1.1" fill="#3a378c" fill-opacity="0.8"/>
<circle cx="426.7" cy="198.5" r="1.1" fill="#3a378c" fill-opacity="0.8"/>
<circle cx="425.4" cy="203.0" r="1.1" fill="#3a378c" fill-opacity="0.8"/>
<circle cx="426.0" cy="199.7" r="1.1" fill="#3a378c" fill-opacity="0.8"/>
<circle cx="427.5" cy="187.6" r="1.1" fill="#3a378c" fill-opacity="0.8"/>
<circle cx="425.9" cy="194.2" r="1.1" fill="#3a378c" fill-opacity="0.8"/>
<circle cx="425.7" cy="198.9" r="1.1" fill="#3a378c" fill-opacity="0.8"/>
<circle cx="426.4" cy="234.4" r="1.1" fill="#3a378c" fill-opacity="0.8"/>
<circle cx="427.3" cy="230.3" r="1.1" fill="#3a378c" fill-opacity="0.8"/>
<circle cx="426.4" cy="231.1" r="1.1" fill="#3a378c" fill-opacity="0.8"/>
<circle cx="424.8" cy="236.8" r="1.1" fill="#3a378c" fill-opacity="0.8"/>
<circle cx="426.2" cy="230.4" r="1.1" fill="#3a378c" fill-opacity="0.8"/>
<circle cx="426.8" cy="239.7" r="1.1" fill="#3a378c" fill-opacity="0.8"/>
<circle cx="426.3" cy="230.0" r="1.1" fill="#3a378c" fill-opacity="0.8"/>
<circle cx="425.3" cy="240.0" r="1.1" fill="#3a378c" fill-opacity="0.8"/>
<circle cx="425.8" cy="233.4" r="1.1" fill="#3a378c" fill-opacity="0.8"/>
<circle cx="426.6" cy="235.1" r="1.1" fill="#3a378c" fill-opacity="0.8"/>
<circle cx="426.9" cy="233.5" r="1.1" fill="#3a378c" fill-opacity="0.8"/>
<circle cx="425.5" cy="235.3" r="1.1" fill="#3a378c" fill-opacity="0.8"/>
<circle cx="424.6" cy="233.4" r="1.1" fill="#3a378c" fill-opacity="0.8"/>
<circle cx="426.2" cy="230.2" r="1.1" fill="#3a378c" fill-opacity="0.8"/>
<circle cx="425.9" cy="173.9" r="1.0" fill="#3a378c" fill-opacity="0.85"/>
<circle cx="425.2" cy="175.5" r="1.0" fill="#3a378c" fill-opacity="0.85"/>
<circle cx="425.2" cy="178.0" r="1.0" fill="#3a378c" fill-opacity="0.85"/>
<circle cx="426.2" cy="188.0" r="1.0" fill="#3a378c" fill-opacity="0.85"/>
<circle cx="426.6" cy="190.0" r="1.0" fill="#3a378c" fill-opacity="0.85"/>
<circle cx="426.2" cy="192.0" r="1.0" fill="#3a378c" fill-opacity="0.85"/>
<circle cx="425.3" cy="194.0" r="1.0" fill="#3a378c" fill-opacity="0.85"/>
<circle cx="426.9" cy="196.0" r="1.0" fill="#3a378c" fill-opacity="0.85"/>
<circle cx="426.6" cy="198.0" r="1.0" fill="#3a378c" fill-opacity="0.85"/>
<circle cx="427.0" cy="200.0" r="1.0" fill="#3a378c" fill-opacity="0.85"/>
<circle cx="425.9" cy="232.0" r="1.0" fill="#3a378c" fill-opacity="0.85"/>
<circle cx="426.1" cy="235.0" r="1.0" fill="#3a378c" fill-opacity="0.85"/>
<circle cx="426.2" cy="238.0" r="1.0" fill="#3a378c" fill-opacity="0.85"/>
<line x1="437.1" y1="206.9" x2="437.1" y2="226" stroke="#4a48a0" stroke-width="0.7"/>
<line x1="437.1" y1="176.8" x2="437.1" y2="172" stroke="#4a48a0" stroke-width="0.7"/>
<rect x="432.4" y="176.8" width="9.40" height="30.10" fill="#fff" stroke="#4a48a0" stroke-width="0.7"/>
<line x1="432.4" y1="192.8" x2="441.8" y2="192.8" stroke="#4a48a0" stroke-width="0.7"/>
<circle cx="438.7" cy="177.8" r="1.1" fill="#3a378c" fill-opacity="0.8"/>
<circle cx="437.1" cy="179.5" r="1.1" fill="#3a378c" fill-opacity="0.8"/>
<circle cx="437.3" cy="172.0" r="1.1" fill="#3a378c" fill-opacity="0.8"/>
<circle cx="437.6" cy="170.4" r="1.1" fill="#3a378c" fill-opacity="0.8"/>
<circle cx="436.6" cy="170.2" r="1.1" fill="#3a378c" fill-opacity="0.8"/>
<circle cx="437.3" cy="176.2" r="1.1" fill="#3a378c" fill-opacity="0.8"/>
<circle cx="436.4" cy="176.4" r="1.1" fill="#3a378c" fill-opacity="0.8"/>
<circle cx="436.8" cy="180.1" r="1.1" fill="#3a378c" fill-opacity="0.8"/>
<circle cx="437.1" cy="175.5" r="1.1" fill="#3a378c" fill-opacity="0.8"/>
<circle cx="435.4" cy="175.7" r="1.1" fill="#3a378c" fill-opacity="0.8"/>
<circle cx="436.3" cy="179.1" r="1.1" fill="#3a378c" fill-opacity="0.8"/>
<circle cx="438.2" cy="178.5" r="1.1" fill="#3a378c" fill-opacity="0.8"/>
<circle cx="437.1" cy="174.6" r="1.1" fill="#3a378c" fill-opacity="0.8"/>
<circle cx="436.8" cy="177.7" r="1.1" fill="#3a378c" fill-opacity="0.8"/>
<circle cx="437.2" cy="174.5" r="1.1" fill="#3a378c" fill-opacity="0.8"/>
<circle cx="436.6" cy="170.7" r="1.1" fill="#3a378c" fill-opacity="0.8"/>
<circle cx="436.3" cy="177.5" r="1.1" fill="#3a378c" fill-opacity="0.8"/>
<circle cx="436.9" cy="176.5" r="1.1" fill="#3a378c" fill-opacity="0.8"/>
<circle cx="436.4" cy="180.9" r="1.1" fill="#3a378c" fill-opacity="0.8"/>
<circle cx="435.8" cy="177.3" r="1.1" fill="#3a378c" fill-opacity="0.8"/>
<circle cx="437.4" cy="171.7" r="1.1" fill="#3a378c" fill-opacity="0.8"/>
<circle cx="437.1" cy="178.5" r="1.1" fill="#3a378c" fill-opacity="0.8"/>
<circle cx="437.5" cy="176.0" r="1.1" fill="#3a378c" fill-opacity="0.8"/>
<circle cx="437.3" cy="170.9" r="1.1" fill="#3a378c" fill-opacity="0.8"/>
<circle cx="438.1" cy="175.2" r="1.1" fill="#3a378c" fill-opacity="0.8"/>
<circle cx="436.4" cy="179.9" r="1.1" fill="#3a378c" fill-opacity="0.8"/>
<circle cx="436.6" cy="176.9" r="1.1" fill="#3a378c" fill-opacity="0.8"/>
<circle cx="436.7" cy="174.7" r="1.1" fill="#3a378c" fill-opacity="0.8"/>
<circle cx="436.8" cy="170.1" r="1.1" fill="#3a378c" fill-opacity="0.8"/>
<circle cx="438.2" cy="177.4" r="1.1" fill="#3a378c" fill-opacity="0.8"/>
<circle cx="437.8" cy="199.4" r="1.1" fill="#3a378c" fill-opacity="0.8"/>
<circle cx="437.1" cy="197.7" r="1.1" fill="#3a378c" fill-opacity="0.8"/>
<circle cx="436.6" cy="194.5" r="1.1" fill="#3a378c" fill-opacity="0.8"/>
<circle cx="437.7" cy="190.4" r="1.1" fill="#3a378c" fill-opacity="0.8"/>
<circle cx="437.3" cy="199.3" r="1.1" fill="#3a378c" fill-opacity="0.8"/>
<circle cx="436.6" cy="196.2" r="1.1" fill="#3a378c" fill-opacity="0.8"/>
<circle cx="436.1" cy="192.6" r="1.1" fill="#3a378c" fill-opacity="0.8"/>
<circle cx="437.6" cy="188.3" r="1.1" fill="#3a378c" fill-opacity="0.8"/>
<circle cx="436.9" cy="199.5" r="1.1" fill="#3a378c" fill-opacity="0.8"/>
<circle cx="437.8" cy="187.6" r="1.1" fill="#3a378c" fill-opacity="0.8"/>
<circle cx="438.2" cy="199.4" r="1.1" fill="#3a378c" fill-opacity="0.8"/>
<circle cx="438.7" cy="188.3" r="1.1" fill="#3a378c" fill-opacity="0.8"/>
<circle cx="437.3" cy="197.2" r="1.1" fill="#3a378c" fill-opacity="0.8"/>
<circle cx="435.8" cy="192.7" r="1.1" fill="#3a378c" fill-opacity="0.8"/>
<circle cx="437.1" cy="196.9" r="1.1" fill="#3a378c" fill-opacity="0.8"/>
<circle cx="437.6" cy="192.3" r="1.1" fill="#3a378c" fill-opacity="0.8"/>
<circle cx="439.1" cy="189.8" r="1.1" fill="#3a378c" fill-opacity="0.8"/>
<circle cx="435.6" cy="196.6" r="1.1" fill="#3a378c" fill-opacity="0.8"/>
<circle cx="438.5" cy="190.7" r="1.1" fill="#3a378c" fill-opacity="0.8"/>
<circle cx="438.9" cy="189.9" r="1.1" fill="#3a378c" fill-opacity="0.8"/>
<circle cx="437.5" cy="194.7" r="1.1" fill="#3a378c" fill-opacity="0.8"/>
<circle cx="436.3" cy="195.1" r="1.1" fill="#3a378c" fill-opacity="0.8"/>
<circle cx="437.4" cy="197.2" r="1.1" fill="#3a378c" fill-opacity="0.8"/>
<circle cx="436.3" cy="194.4" r="1.1" fill="#3a378c" fill-opacity="0.8"/>
<circle cx="436.3" cy="198.2" r="1.1" fill="#3a378c" fill-opacity="0.8"/>
<circle cx="437.0" cy="196.2" r="1.1" fill="#3a378c" fill-opacity="0.8"/>
<circle cx="436.4" cy="186.2" r="1.1" fill="#3a378c" fill-opacity="0.8"/>
<circle cx="437.3" cy="188.1" r="1.1" fill="#3a378c" fill-opacity="0.8"/>
<circle cx="437.5" cy="197.7" r="1.1" fill="#3a378c" fill-opacity="0.8"/>
<circle cx="436.0" cy="194.2" r="1.1" fill="#3a378c" fill-opacity="0.8"/>
<circle cx="436.7" cy="213.4" r="1.1" fill="#3a378c" fill-opacity="0.8"/>
<circle cx="437.2" cy="191.2" r="1.1" fill="#3a378c" fill-opacity="0.8"/>
<circle cx="437.3" cy="182.9" r="1.1" fill="#3a378c" fill-opacity="0.8"/>
<circle cx="437.5" cy="194.1" r="1.1" fill="#3a378c" fill-opacity="0.8"/>
<circle cx="437.4" cy="204.4" r="1.1" fill="#3a378c" fill-opacity="0.8"/>
<circle cx="436.6" cy="211.6" r="1.1" fill="#3a378c" fill-opacity="0.8"/>
<circle cx="436.6" cy="200.4" r="1.1" fill="#3a378c" fill-opacity="0.8"/>
<circle cx="436.9" cy="181.3" r="1.1" fill="#3a378c" fill-opacity="0.8"/>
<circle cx="437.5" cy="193.7" r="1.1" fill="#3a378c" fill-opacity="0.8"/>
<circle cx="435.7" cy="198.8" r="1.1" fill="#3a378c" fill-opacity="0.8"/>
<circle cx="437.2" cy="198.7" r="1.1" fill="#3a378c" fill-opacity="0.8"/>
<circle cx="439.0" cy="192.7" r="1.1" fill="#3a378c" fill-opacity="0.8"/>
<circle cx="435.6" cy="183.1" r="1.1" fill="#3a378c" fill-opacity="0.8"/>
<circle cx="437.3" cy="194.1" r="1.1" fill="#3a378c" fill-opacity="0.8"/>
<circle cx="436.6" cy="198.2" r="1.1" fill="#3a378c" fill-opacity="0.8"/>
<circle cx="437.8" cy="189.6" r="1.1" fill="#3a378c" fill-opacity="0.8"/>
<circle cx="437.8" cy="208.5" r="1.1" fill="#3a378c" fill-opacity="0.8"/>
<circle cx="437.5" cy="191.6" r="1.1" fill="#3a378c" fill-opacity="0.8"/>
<circle cx="437.9" cy="161.7" r="1.0" fill="#5553b0" fill-opacity="0.8"/>
<circle cx="438.4" cy="231.5" r="1.0" fill="#4a48a0" fill-opacity="0.8"/>
<line x1="464.1" y1="235.8" x2="464.1" y2="238.6" stroke="#c9982f" stroke-width="0.7"/>
<line x1="464.1" y1="211.2" x2="464.1" y2="200" stroke="#c9982f" stroke-width="0.7"/>
<rect x="459" y="211.2" width="10.20" height="24.60" fill="#d0aa5a" stroke="#c9982f" stroke-width="0.6"/>
<line x1="459" y1="227.1" x2="469.2" y2="227.1" stroke="#c9982f" stroke-width="0.8"/>
<circle cx="464.3" cy="204.0" r="1.0" fill="#c9982f" fill-opacity="0.8"/>
<circle cx="464.1" cy="238.6" r="1.0" fill="#c9982f" fill-opacity="0.8"/>
<circle cx="462.8" cy="196.2" r="1.4" fill="none" stroke="#c9982f" stroke-width="0.6"/>
<circle cx="463.5" cy="243.9" r="1.3" fill="none" stroke="#c9982f" stroke-width="0.6"/>
<line x1="474.29999999999995" y1="215.7" x2="474.29999999999995" y2="218" stroke="#c9982f" stroke-width="0.7"/>
<line x1="474.29999999999995" y1="196.6" x2="474.29999999999995" y2="188" stroke="#c9982f" stroke-width="0.7"/>
<rect x="469.4" y="196.6" width="9.80" height="19.10" fill="#fff" stroke="#c9982f" stroke-width="0.7"/>
<line x1="469.4" y1="204.9" x2="479.2" y2="204.9" stroke="#c9982f" stroke-width="0.7"/>
<circle cx="473.8" cy="193.0" r="1.0" fill="#c9982f" fill-opacity="0.8"/>
<circle cx="473.8" cy="201.0" r="1.0" fill="#c9982f" fill-opacity="0.8"/>
<circle cx="474.3" cy="208.0" r="1.0" fill="#c9982f" fill-opacity="0.8"/>
<circle cx="475.1" cy="186" r="1.4" fill="none" stroke="#c9982f" stroke-width="0.6"/>
<circle cx="474.6" cy="218.4" r="1.3" fill="none" stroke="#c9982f" stroke-width="0.6"/>
<circle cx="476" cy="210" r="1.3" fill="none" stroke="#c9982f" stroke-width="0.6"/>
<line x1="501.20000000000005" y1="226.4" x2="501.20000000000005" y2="239.2" stroke="#d9474a" stroke-width="0.7"/>
<line x1="501.20000000000005" y1="194.9" x2="501.20000000000005" y2="183.2" stroke="#d9474a" stroke-width="0.7"/>
<rect x="496.3" y="194.9" width="9.80" height="31.50" fill="#dd5a5c" stroke="#d9474a" stroke-width="0.6"/>
<line x1="496.3" y1="205.5" x2="506.1" y2="205.5" stroke="#d9474a" stroke-width="0.8"/>
<circle cx="503.3" cy="213.0" r="0.8" fill="#c03535" fill-opacity="0.5"/>
<circle cx="501.6" cy="213.6" r="0.8" fill="#c03535" fill-opacity="0.5"/>
<circle cx="500.1" cy="202.4" r="0.8" fill="#c03535" fill-opacity="0.5"/>
<circle cx="502.2" cy="223.8" r="0.8" fill="#c03535" fill-opacity="0.5"/>
<circle cx="501.0" cy="204.4" r="0.8" fill="#c03535" fill-opacity="0.5"/>
<circle cx="501.3" cy="198.9" r="0.8" fill="#c03535" fill-opacity="0.5"/>
<circle cx="501.1" cy="209.4" r="0.8" fill="#c03535" fill-opacity="0.5"/>
<circle cx="499.7" cy="213.8" r="0.8" fill="#c03535" fill-opacity="0.5"/>
<circle cx="502.4" cy="214.3" r="0.8" fill="#c03535" fill-opacity="0.5"/>
<circle cx="498.7" cy="199.9" r="0.8" fill="#c03535" fill-opacity="0.5"/>
<circle cx="501.4" cy="171.4" r="1.0" fill="#d9474a" fill-opacity="0.9"/>
<circle cx="501.8" cy="192.0" r="1.0" fill="#d9474a" fill-opacity="0.9"/>
<circle cx="501.1" cy="239.5" r="1.0" fill="#d9474a" fill-opacity="0.9"/>
<line x1="511.25" y1="185.9" x2="511.25" y2="225.5" stroke="#d9474a" stroke-width="0.7"/>
<line x1="511.25" y1="175.9" x2="511.25" y2="175" stroke="#d9474a" stroke-width="0.7"/>
<rect x="506.1" y="175.9" width="10.30" height="10.00" fill="#fff" stroke="#d9474a" stroke-width="0.7"/>
<line x1="506.1" y1="177.8" x2="516.4" y2="177.8" stroke="#d9474a" stroke-width="0.7"/>
<circle cx="510.6" cy="176.0" r="1.0" fill="#d9474a" fill-opacity="0.9"/>
<circle cx="510.5" cy="178.6" r="1.0" fill="#d9474a" fill-opacity="0.9"/>
<circle cx="511.4" cy="188.0" r="1.0" fill="#d9474a" fill-opacity="0.9"/>
<circle cx="511.2" cy="237.9" r="1.0" fill="#d9474a" fill-opacity="0.9"/>
<path d="M424.2 160.9 V159.5 H439.8 V160.9" fill="none" stroke="#777" stroke-width="0.6"/>
<text x="432.0" y="161.7" font-size="9.5" fill="#111" stroke="#111" stroke-width="0.15" text-anchor="middle" font-weight="normal" >***</text>
<path d="M461.2 160.1 V158.7 H476.8 V160.1" fill="none" stroke="#777" stroke-width="0.6"/>
<text x="469.0" y="160.89999999999998" font-size="9.5" fill="#111" stroke="#111" stroke-width="0.15" text-anchor="middle" font-weight="normal" >*</text>
<path d="M498.2 160.4 V159 H514.3 V160.4" fill="none" stroke="#777" stroke-width="0.6"/>
<text x="506.25" y="161.2" font-size="9.5" fill="#111" stroke="#111" stroke-width="0.15" text-anchor="middle" font-weight="normal" >*</text>
</svg>
</body></html>
